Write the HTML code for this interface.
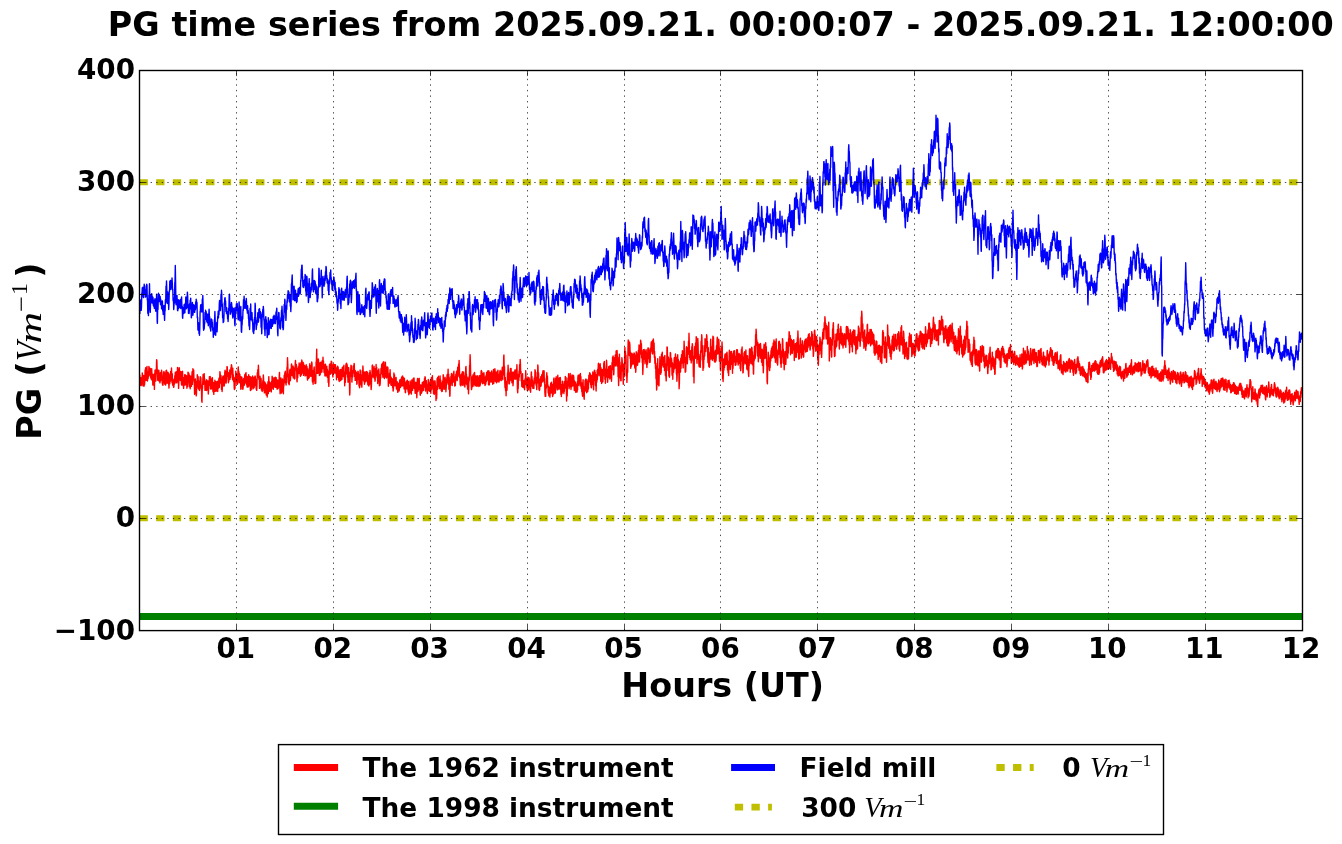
<!DOCTYPE html>
<html lang="en"><head><meta charset="utf-8"><title>PG time series</title>
<style>html,body{margin:0;padding:0;background:#fff}svg{display:block;will-change:transform}</style></head>
<body>
<svg width="1342" height="844" viewBox="0 0 1342 844">
<rect width="1342" height="844" fill="#fff"/>
<defs><clipPath id="ax"><rect x="139.5" y="70.5" width="1163.0" height="560.1"/></clipPath></defs>
<g clip-path="url(#ax)">
<line x1="139.5" x2="1302.5" y1="182.17" y2="182.17" stroke="#bfbf00" stroke-width="6.0" stroke-dasharray="8.33 8.33"/>
<line x1="139.5" x2="1302.5" y1="518.23" y2="518.23" stroke="#bfbf00" stroke-width="6.0" stroke-dasharray="8.33 8.33"/>
<polyline points="139.8,374.7 140.1,382.8 140.4,377.5 140.7,385.4 140.9,379.1 141.2,385.6 141.5,383.4 141.8,377.1 142.0,383.5 142.3,373.0 142.6,378.1 142.9,385.8 143.1,383.7 143.4,376.9 143.7,375.5 144.0,386.2 144.2,378.2 144.5,384.9 144.8,382.0 145.1,370.0 145.3,377.7 145.6,367.8 145.9,369.8 146.2,380.4 146.4,375.9 146.7,368.9 147.0,366.5 147.3,376.0 147.5,381.0 147.8,371.6 148.1,378.7 148.4,372.0 148.6,376.6 148.9,366.4 149.2,368.0 149.5,374.8 149.7,367.9 150.0,375.2 150.3,368.5 150.6,377.8 150.8,369.8 151.1,377.7 151.4,379.4 151.7,368.8 151.9,372.9 152.2,380.5 152.5,374.3 152.8,385.0 153.0,380.9 153.3,375.2 153.6,385.1 153.9,374.5 154.1,373.9 154.4,389.4 154.7,378.9 155.0,370.1 155.2,371.1 155.5,380.9 155.8,381.1 156.1,369.1 156.3,373.5 156.6,359.7 156.9,361.0 157.2,371.9 157.4,372.0 157.7,380.2 158.0,370.2 158.3,379.8 158.5,380.5 158.8,370.1 159.1,373.6 159.4,381.5 159.6,373.5 159.9,382.9 160.2,381.5 160.5,372.4 160.7,377.6 161.0,373.1 161.3,380.0 161.6,370.2 161.8,376.0 162.1,381.4 162.4,384.2 162.7,377.0 162.9,385.4 163.2,376.0 163.5,372.0 163.8,382.5 164.0,371.4 164.3,380.8 164.6,384.1 164.9,373.0 165.1,375.8 165.4,382.2 165.7,385.1 166.0,370.8 166.2,380.4 166.5,370.2 166.8,373.9 167.1,383.3 167.3,374.2 167.6,383.0 167.9,372.3 168.2,380.1 168.4,372.9 168.7,384.0 169.0,388.1 169.3,375.4 169.5,377.0 169.8,383.7 170.1,373.8 170.4,381.3 170.6,371.5 170.9,380.0 171.2,378.9 171.5,367.9 171.7,374.0 172.0,382.8 172.3,373.7 172.6,385.1 172.8,378.7 173.1,385.6 173.4,379.7 173.7,387.4 173.9,386.5 174.2,379.7 174.5,384.1 174.8,375.6 175.0,381.9 175.3,372.2 175.6,381.9 175.9,374.5 176.1,383.0 176.4,371.6 176.7,382.3 177.0,374.5 177.2,379.1 177.5,367.4 177.8,369.5 178.1,383.3 178.3,378.9 178.6,388.4 178.9,380.3 179.2,367.6 179.4,368.8 179.7,377.6 180.0,380.1 180.3,371.4 180.5,380.5 180.8,372.4 181.1,371.7 181.4,383.3 181.6,385.0 181.9,376.7 182.2,379.6 182.5,371.1 182.7,375.1 183.0,385.7 183.3,377.4 183.6,388.4 183.8,384.6 184.1,377.8 184.4,383.3 184.7,374.6 184.9,385.1 185.2,375.4 185.5,375.0 185.8,384.9 186.0,376.4 186.3,384.3 186.6,375.6 186.9,388.2 187.1,378.3 187.4,386.7 187.7,382.8 188.0,372.1 188.2,373.5 188.5,381.6 188.8,373.3 189.1,382.4 189.3,386.8 189.6,375.1 189.9,380.7 190.2,388.7 190.4,387.0 190.7,376.2 191.0,378.6 191.3,385.6 191.5,386.3 191.8,377.8 192.1,371.7 192.4,384.4 192.6,377.6 192.9,368.8 193.2,376.9 193.5,370.5 193.7,370.2 194.0,381.0 194.3,382.5 194.6,394.3 194.8,392.6 195.1,380.0 195.4,379.0 195.7,388.7 195.9,384.9 196.2,395.9 196.5,393.8 196.8,381.2 197.0,388.8 197.3,374.8 197.6,377.7 197.9,384.2 198.1,376.4 198.4,386.5 198.7,389.1 199.0,381.2 199.2,381.6 199.5,390.5 199.8,386.1 200.1,377.7 200.3,376.7 200.6,386.7 200.9,377.7 201.2,388.7 201.4,385.3 201.7,400.8 202.0,402.2 202.3,386.0 202.5,388.6 202.8,380.6 203.1,374.4 203.4,384.4 203.6,382.8 203.9,374.7 204.2,373.6 204.5,381.9 204.7,378.7 205.0,390.4 205.3,390.1 205.6,382.8 205.8,389.3 206.1,380.9 206.4,390.6 206.7,379.8 206.9,380.8 207.2,388.8 207.5,380.9 207.8,390.3 208.0,384.1 208.3,394.0 208.6,389.8 208.9,380.5 209.1,385.6 209.4,376.8 209.7,384.6 210.0,377.8 210.2,376.5 210.5,388.6 210.8,389.1 211.1,379.0 211.3,383.1 211.6,388.8 211.9,386.9 212.2,377.6 212.4,377.8 212.7,387.0 213.0,391.8 213.3,382.4 213.5,382.6 213.8,394.4 214.1,382.6 214.4,391.5 214.6,386.6 214.9,380.1 215.2,390.6 215.5,381.9 215.7,391.3 216.0,381.6 216.3,391.1 216.6,383.3 216.8,381.9 217.1,390.6 217.4,381.3 217.7,391.5 217.9,387.7 218.2,381.4 218.5,388.1 218.8,379.4 219.0,378.3 219.3,387.5 219.6,382.5 219.9,371.6 220.1,372.6 220.4,381.5 220.7,383.1 221.0,375.5 221.2,378.8 221.5,389.5 221.8,380.3 222.1,391.5 222.3,388.9 222.6,378.3 222.9,376.3 223.2,385.9 223.4,375.9 223.7,386.0 224.0,377.1 224.3,385.9 224.5,383.2 224.8,372.3 225.1,370.2 225.4,377.5 225.6,371.4 225.9,382.9 226.2,383.1 226.5,374.1 226.7,375.4 227.0,366.4 227.3,367.1 227.6,376.2 227.8,372.2 228.1,379.9 228.4,382.8 228.7,375.1 228.9,381.2 229.2,372.4 229.5,379.2 229.8,369.9 230.0,379.4 230.3,371.2 230.6,377.4 230.9,367.8 231.1,371.0 231.4,364.7 231.7,365.8 232.0,374.2 232.2,368.4 232.5,379.8 232.8,368.2 233.1,379.8 233.3,374.6 233.6,381.5 233.9,377.3 234.2,387.7 234.4,389.5 234.7,380.6 235.0,388.6 235.3,377.7 235.5,381.5 235.8,371.1 236.1,374.1 236.4,381.5 236.6,377.2 236.9,384.0 237.2,374.3 237.5,384.3 237.7,377.5 238.0,370.4 238.3,366.9 238.6,377.2 238.8,371.2 239.1,382.7 239.4,373.3 239.7,381.9 239.9,374.5 240.2,382.8 240.5,379.8 240.8,389.2 241.0,376.7 241.3,385.7 241.6,385.2 241.9,377.3 242.1,378.9 242.4,389.1 242.7,380.6 243.0,389.1 243.2,386.3 243.5,379.6 243.8,378.4 244.1,385.5 244.3,384.9 244.6,376.8 244.9,374.4 245.2,383.0 245.4,382.3 245.7,373.5 246.0,372.6 246.3,381.9 246.5,384.8 246.8,376.2 247.1,386.9 247.4,379.0 247.6,380.5 247.9,387.3 248.2,376.4 248.5,386.5 248.7,374.8 249.0,384.1 249.3,376.4 249.6,385.5 249.8,376.4 250.1,384.1 250.4,390.5 250.7,377.0 250.9,380.8 251.2,389.8 251.5,377.4 251.8,386.8 252.0,377.4 252.3,386.9 252.6,376.0 252.9,388.9 253.1,377.1 253.4,388.2 253.7,380.4 254.0,387.8 254.2,387.4 254.5,376.9 254.8,384.0 255.1,376.0 255.3,376.6 255.6,385.7 255.9,380.4 256.2,389.2 256.4,379.4 256.7,390.4 257.0,385.5 257.3,372.7 257.5,377.6 257.8,369.6 258.1,375.3 258.4,365.3 258.6,370.2 258.9,379.6 259.2,378.1 259.5,388.4 259.7,387.5 260.0,376.3 260.3,379.9 260.6,386.7 260.8,387.7 261.1,378.5 261.4,390.0 261.7,384.3 261.9,384.5 262.2,391.5 262.5,387.8 262.8,380.7 263.0,386.7 263.3,374.9 263.6,378.7 263.9,390.8 264.1,386.0 264.4,392.9 264.7,381.9 265.0,392.5 265.2,392.1 265.5,383.1 265.8,385.8 266.1,394.4 266.3,395.1 266.6,385.0 266.9,386.5 267.2,397.0 267.4,393.9 267.7,385.1 268.0,381.8 268.3,393.6 268.5,389.6 268.8,376.6 269.1,388.5 269.4,381.6 269.6,391.3 269.9,382.6 270.2,390.2 270.5,383.7 270.7,382.9 271.0,390.5 271.3,391.9 271.6,381.1 271.8,387.6 272.1,376.2 272.4,377.9 272.7,388.3 272.9,379.3 273.2,389.3 273.5,387.4 273.8,379.5 274.0,377.6 274.3,386.7 274.6,386.2 274.9,378.0 275.1,386.7 275.4,377.1 275.7,387.4 276.0,377.7 276.2,377.8 276.5,386.5 276.8,379.6 277.1,389.3 277.3,379.9 277.6,388.6 277.9,380.3 278.2,388.5 278.4,381.2 278.7,386.7 279.0,382.7 279.3,374.5 279.5,372.4 279.8,387.1 280.1,393.8 280.4,382.5 280.6,390.8 280.9,377.9 281.2,380.2 281.5,393.0 281.7,380.6 282.0,391.9 282.3,388.9 282.6,378.9 282.8,389.8 283.1,380.8 283.4,393.8 283.7,380.6 283.9,386.1 284.2,375.2 284.5,381.3 284.8,372.7 285.0,382.5 285.3,371.1 285.6,377.2 285.9,383.9 286.1,385.0 286.4,376.2 286.7,382.2 287.0,367.5 287.2,370.3 287.5,357.6 287.8,364.6 288.1,377.1 288.3,374.5 288.6,383.7 288.9,374.4 289.2,384.7 289.4,379.5 289.7,370.7 290.0,369.3 290.3,380.7 290.5,379.9 290.8,371.0 291.1,375.8 291.4,364.6 291.6,363.9 291.9,373.3 292.2,375.3 292.5,367.2 292.7,375.9 293.0,366.0 293.3,377.9 293.6,367.3 293.8,377.2 294.1,368.7 294.4,379.0 294.7,369.3 294.9,378.6 295.2,364.1 295.5,360.5 295.8,369.4 296.0,370.0 296.3,364.4 296.6,365.8 296.9,380.4 297.1,381.8 297.4,370.5 297.7,377.8 298.0,368.2 298.2,373.7 298.5,366.7 298.8,373.6 299.1,363.0 299.3,370.8 299.6,363.9 299.9,366.1 300.2,375.3 300.4,376.2 300.7,369.0 301.0,362.4 301.3,375.0 301.5,370.7 301.8,360.0 302.1,361.7 302.4,372.3 302.6,365.6 302.9,373.4 303.2,362.4 303.5,375.4 303.7,363.9 304.0,372.8 304.3,373.9 304.6,365.6 304.8,368.4 305.1,376.0 305.4,374.3 305.7,366.3 305.9,375.3 306.2,364.8 306.5,375.5 306.8,366.2 307.0,367.1 307.3,377.8 307.6,380.1 307.9,368.9 308.1,373.4 308.4,378.5 308.7,376.8 309.0,370.8 309.2,377.8 309.5,367.6 309.8,363.7 310.1,373.7 310.3,365.4 310.6,376.1 310.9,376.3 311.2,365.7 311.4,370.1 311.7,362.0 312.0,363.3 312.3,379.6 312.5,382.0 312.8,370.8 313.1,384.2 313.4,375.3 313.6,381.0 313.9,368.8 314.2,366.9 314.5,375.6 314.7,375.0 315.0,383.6 315.3,383.0 315.6,374.9 315.8,383.2 316.1,361.9 316.4,361.9 316.7,349.1 316.9,359.7 317.2,373.4 317.5,363.6 317.8,373.2 318.0,365.8 318.3,358.9 318.6,361.4 318.9,373.3 319.1,362.8 319.4,375.5 319.7,365.1 320.0,375.1 320.2,374.5 320.5,362.5 320.8,372.7 321.1,362.3 321.3,370.8 321.6,363.0 321.9,372.0 322.2,360.6 322.4,360.9 322.7,368.5 323.0,357.2 323.3,365.5 323.5,361.0 323.8,367.9 324.1,372.6 324.4,365.0 324.6,365.3 324.9,375.7 325.2,376.1 325.5,364.1 325.7,375.5 326.0,366.8 326.3,366.8 326.6,373.8 326.8,366.2 327.1,376.9 327.4,369.3 327.7,377.5 327.9,370.9 328.2,382.6 328.5,377.5 328.8,386.4 329.0,381.4 329.3,367.8 329.6,364.1 329.9,372.9 330.1,364.3 330.4,374.3 330.7,363.6 331.0,369.2 331.2,361.2 331.5,373.0 331.8,362.0 332.1,371.5 332.3,364.6 332.6,374.7 332.9,377.0 333.2,366.9 333.4,373.7 333.7,364.1 334.0,365.7 334.3,372.8 334.5,373.0 334.8,364.7 335.1,372.6 335.4,364.6 335.6,366.8 335.9,373.9 336.2,367.7 336.5,379.7 336.7,367.9 337.0,377.0 337.3,374.4 337.6,366.2 337.8,377.4 338.1,367.0 338.4,371.3 338.7,380.1 338.9,372.2 339.2,381.5 339.5,379.2 339.8,370.5 340.0,369.6 340.3,380.3 340.6,380.7 340.9,369.5 341.1,379.9 341.4,371.1 341.7,371.6 342.0,379.2 342.2,367.7 342.5,376.4 342.8,374.5 343.1,366.6 343.3,367.4 343.6,376.2 343.9,365.2 344.2,378.1 344.4,372.0 344.7,385.7 345.0,373.8 345.3,382.5 345.5,377.1 345.8,366.1 346.1,363.7 346.4,372.3 346.6,363.1 346.9,374.0 347.2,364.6 347.5,376.9 347.7,372.7 348.0,382.2 348.3,381.4 348.6,367.5 348.8,369.0 349.1,380.8 349.4,382.1 349.7,395.0 349.9,392.4 350.2,372.3 350.5,376.7 350.8,368.6 351.0,365.3 351.3,374.5 351.6,366.0 351.9,382.1 352.1,377.8 352.4,370.7 352.7,376.9 353.0,370.9 353.2,373.2 353.5,365.6 353.8,372.9 354.1,363.5 354.3,364.5 354.6,376.4 354.9,370.1 355.2,380.4 355.4,370.6 355.7,380.1 356.0,380.2 356.3,372.2 356.5,373.9 356.8,384.3 357.1,383.3 357.4,374.4 357.6,379.6 357.9,371.3 358.2,371.5 358.5,378.4 358.7,374.1 359.0,386.0 359.3,380.7 359.6,387.8 359.8,382.7 360.1,369.9 360.4,371.5 360.7,383.8 360.9,374.8 361.2,385.0 361.5,378.8 361.8,387.1 362.0,384.0 362.3,370.6 362.6,377.9 362.9,366.0 363.1,369.3 363.4,380.2 363.7,371.7 364.0,381.8 364.2,371.9 364.5,384.2 364.8,381.5 365.1,372.2 365.3,381.9 365.6,373.2 365.9,379.7 366.2,371.7 366.4,371.6 366.7,381.0 367.0,371.7 367.3,382.0 367.5,372.4 367.8,384.5 368.1,375.5 368.4,385.5 368.6,376.3 368.9,386.0 369.2,373.1 369.5,384.5 369.7,382.0 370.0,370.5 370.3,372.5 370.6,381.3 370.8,376.5 371.1,389.6 371.4,386.6 371.7,375.0 371.9,378.1 372.2,365.6 372.5,365.0 372.8,374.1 373.0,368.0 373.3,377.0 373.6,368.6 373.9,375.7 374.1,366.5 374.4,378.8 374.7,373.0 375.0,381.2 375.2,380.4 375.5,368.4 375.8,376.1 376.1,364.4 376.3,374.5 376.6,367.1 376.9,370.8 377.2,377.6 377.4,372.1 377.7,383.6 378.0,380.4 378.3,370.3 378.5,377.4 378.8,369.0 379.1,374.4 379.4,385.7 379.6,379.7 379.9,385.4 380.2,383.4 380.5,374.3 380.7,378.3 381.0,368.1 381.3,374.0 381.6,366.0 381.8,364.1 382.1,371.6 382.4,363.5 382.7,374.8 382.9,377.2 383.2,362.3 383.5,372.3 383.8,361.8 384.0,367.6 384.3,378.6 384.6,375.4 384.9,367.3 385.1,373.9 385.4,362.3 385.7,377.0 386.0,366.2 386.2,370.7 386.5,378.0 386.8,377.5 387.1,367.4 387.3,374.7 387.6,367.0 387.9,367.8 388.2,380.2 388.4,386.2 388.7,377.1 389.0,376.2 389.3,383.2 389.5,373.3 389.8,382.0 390.1,369.6 390.4,379.9 390.6,376.3 390.9,384.9 391.2,377.4 391.5,385.4 391.7,379.0 392.0,384.7 392.3,378.8 392.6,387.5 392.8,381.1 393.1,391.0 393.4,389.7 393.7,380.8 393.9,373.0 394.2,384.0 394.5,374.6 394.8,385.1 395.0,385.9 395.3,378.5 395.6,385.5 395.9,378.4 396.1,377.5 396.4,389.0 396.7,382.4 397.0,388.2 397.2,381.6 397.5,390.2 397.8,392.4 398.1,383.6 398.3,391.2 398.6,384.1 398.9,383.0 399.2,390.9 399.4,387.5 399.7,379.9 400.0,386.7 400.3,380.0 400.5,387.5 400.8,379.1 401.1,386.1 401.4,379.2 401.6,377.1 401.9,385.7 402.2,376.2 402.5,385.9 402.7,376.0 403.0,384.2 403.3,377.5 403.6,386.1 403.8,380.0 404.1,388.9 404.4,378.1 404.7,389.3 404.9,382.5 405.2,391.9 405.5,392.7 405.8,383.8 406.0,388.3 406.3,381.3 406.6,382.1 406.9,388.9 407.1,387.8 407.4,380.1 407.7,381.4 408.0,390.1 408.2,391.8 408.5,381.8 408.8,394.7 409.1,385.5 409.3,385.7 409.6,393.4 409.9,392.3 410.2,380.9 410.4,392.2 410.7,385.4 411.0,382.8 411.3,394.1 411.5,391.4 411.8,379.9 412.1,380.5 412.4,387.8 412.6,390.2 412.9,380.3 413.2,378.5 413.5,388.1 413.7,387.5 414.0,377.9 414.3,382.6 414.6,388.4 414.8,386.0 415.1,393.2 415.4,391.7 415.7,382.2 415.9,382.5 416.2,393.5 416.5,387.0 416.8,397.7 417.0,392.4 417.3,380.3 417.6,378.4 417.9,391.6 418.1,391.0 418.4,380.7 418.7,389.5 419.0,378.9 419.2,378.3 419.5,389.5 419.8,385.0 420.1,394.1 420.3,395.2 420.6,385.7 420.9,384.8 421.2,392.1 421.4,393.2 421.7,385.2 422.0,392.0 422.3,382.4 422.5,389.5 422.8,383.1 423.1,390.5 423.4,381.6 423.6,390.3 423.9,383.4 424.2,387.2 424.5,378.6 424.7,384.3 425.0,376.8 425.3,377.5 425.6,391.1 425.8,387.6 426.1,382.0 426.4,380.7 426.7,388.2 426.9,384.6 427.2,393.2 427.5,393.5 427.8,384.2 428.0,390.4 428.3,379.5 428.6,381.2 428.9,390.6 429.1,383.3 429.4,389.8 429.7,391.3 430.0,382.4 430.2,390.7 430.5,380.2 430.8,393.2 431.1,382.5 431.3,377.7 431.6,389.7 431.9,388.0 432.2,379.2 432.4,375.6 432.7,384.6 433.0,380.1 433.3,389.8 433.5,393.7 433.8,384.9 434.1,381.6 434.4,394.3 434.6,390.6 434.9,380.6 435.2,382.5 435.5,392.6 435.7,385.9 436.0,400.5 436.3,390.7 436.6,398.6 436.8,394.7 437.1,378.4 437.4,389.4 437.7,377.5 437.9,378.0 438.2,384.1 438.5,376.2 438.8,386.6 439.0,381.9 439.3,388.7 439.6,379.3 439.9,388.2 440.1,376.0 440.4,385.9 440.7,379.9 441.0,388.6 441.2,390.3 441.5,383.3 441.8,391.6 442.1,382.6 442.3,391.3 442.6,381.1 442.9,386.6 443.2,374.8 443.4,375.4 443.7,387.7 444.0,389.4 444.3,383.1 444.5,389.1 444.8,378.2 445.1,377.3 445.4,385.7 445.6,379.9 445.9,391.7 446.2,388.0 446.5,379.0 446.7,384.2 447.0,375.1 447.3,374.5 447.6,382.3 447.8,379.2 448.1,369.3 448.4,384.3 448.7,374.2 448.9,389.3 449.2,377.3 449.5,386.0 449.8,396.2 450.0,395.6 450.3,380.0 450.6,385.4 450.9,376.4 451.1,382.2 451.4,373.8 451.7,373.4 452.0,381.1 452.2,385.5 452.5,375.1 452.8,382.2 453.1,375.0 453.3,381.9 453.6,373.1 453.9,371.3 454.2,381.3 454.4,376.7 454.7,386.0 455.0,377.4 455.3,385.6 455.5,381.9 455.8,374.2 456.1,379.9 456.4,372.5 456.6,371.2 456.9,379.5 457.2,380.5 457.5,371.0 457.7,367.2 458.0,376.6 458.3,373.9 458.6,363.9 458.8,374.7 459.1,360.4 459.4,368.1 459.7,378.0 459.9,374.5 460.2,384.9 460.5,376.2 460.8,385.9 461.0,375.0 461.3,384.3 461.6,380.2 461.9,373.3 462.1,384.7 462.4,371.8 462.7,385.3 463.0,377.9 463.2,378.6 463.5,372.0 463.8,373.4 464.1,383.8 464.3,385.9 464.6,376.2 464.9,387.0 465.2,378.2 465.4,383.9 465.7,368.2 466.0,366.5 466.3,376.6 466.5,374.2 466.8,384.7 467.1,376.9 467.4,384.6 467.6,389.1 467.9,378.2 468.2,383.3 468.5,393.8 468.7,388.4 469.0,376.8 469.3,380.9 469.6,365.5 469.8,367.6 470.1,354.8 470.4,362.2 470.7,375.5 470.9,375.9 471.2,384.3 471.5,389.6 471.8,383.4 472.0,387.9 472.3,376.8 472.6,383.8 472.9,374.9 473.1,386.2 473.4,376.8 473.7,383.3 474.0,373.2 474.2,384.6 474.5,372.4 474.8,376.5 475.1,385.9 475.3,385.2 475.6,378.7 475.9,375.9 476.2,386.0 476.4,382.2 476.7,376.2 477.0,386.1 477.3,378.0 477.5,385.9 477.8,375.6 478.1,377.0 478.4,383.8 478.6,378.0 478.9,386.5 479.2,377.4 479.5,385.9 479.7,375.4 480.0,385.8 480.3,384.3 480.6,378.5 480.8,382.0 481.1,371.0 481.4,370.5 481.7,378.1 481.9,371.6 482.2,383.0 482.5,383.7 482.8,374.0 483.0,383.2 483.3,373.5 483.6,378.8 483.9,372.6 484.1,375.9 484.4,383.6 484.7,377.0 485.0,385.6 485.2,384.9 485.5,376.7 485.8,384.1 486.1,375.2 486.3,381.7 486.6,372.4 486.9,379.7 487.2,372.1 487.4,379.6 487.7,370.9 488.0,380.8 488.3,373.2 488.5,384.7 488.8,370.7 489.1,376.2 489.4,384.8 489.6,372.5 489.9,382.1 490.2,381.0 490.5,373.1 490.7,381.8 491.0,372.2 491.3,382.0 491.6,371.0 491.8,380.3 492.1,373.1 492.4,376.4 492.7,384.3 492.9,381.2 493.2,372.3 493.5,369.5 493.8,383.4 494.0,371.7 494.3,377.8 494.6,380.9 494.9,368.8 495.1,371.4 495.4,381.5 495.7,379.1 496.0,372.1 496.2,373.0 496.5,382.8 496.8,382.3 497.1,373.1 497.3,371.5 497.6,380.3 497.9,370.2 498.2,381.5 498.4,374.1 498.7,380.6 499.0,382.0 499.3,374.1 499.5,380.6 499.8,371.8 500.1,370.5 500.4,379.7 500.6,371.1 500.9,377.3 501.2,380.6 501.5,373.8 501.7,378.2 502.0,370.7 502.3,367.1 502.6,375.9 502.8,379.8 503.1,370.0 503.4,374.9 503.7,357.0 503.9,355.0 504.2,367.9 504.5,366.7 504.8,382.5 505.0,387.8 505.3,377.5 505.6,390.7 505.9,381.2 506.1,395.7 506.4,382.5 506.7,381.4 507.0,390.3 507.2,383.1 507.5,373.0 507.8,374.0 508.1,365.2 508.3,370.2 508.6,378.3 508.9,383.7 509.2,373.0 509.4,383.9 509.7,375.2 510.0,380.9 510.3,370.7 510.5,368.4 510.8,379.4 511.1,368.4 511.4,380.4 511.6,372.5 511.9,382.7 512.2,381.1 512.5,372.2 512.7,373.9 513.0,385.7 513.3,381.5 513.6,373.7 513.8,372.0 514.1,378.4 514.4,371.8 514.7,379.0 514.9,370.0 515.2,379.0 515.5,371.5 515.8,379.1 516.0,378.7 516.3,369.3 516.6,374.6 516.9,364.6 517.1,370.3 517.4,389.1 517.7,392.7 518.0,384.8 518.2,388.4 518.5,374.2 518.8,380.5 519.1,371.0 519.3,377.1 519.6,364.8 519.9,368.7 520.2,359.4 520.4,362.7 520.7,373.4 521.0,371.4 521.3,381.0 521.5,376.7 521.8,386.5 522.1,385.6 522.4,376.9 522.6,373.7 522.9,387.4 523.2,387.1 523.5,380.7 523.7,387.8 524.0,382.1 524.3,380.4 524.6,389.7 524.8,385.6 525.1,378.7 525.4,382.9 525.7,370.8 525.9,374.8 526.2,384.7 526.5,378.3 526.8,387.5 527.0,382.2 527.3,390.5 527.6,390.5 527.9,377.0 528.1,381.6 528.4,389.7 528.7,386.6 529.0,377.6 529.2,386.7 529.5,378.9 529.8,383.6 530.1,390.6 530.3,383.4 530.6,392.2 530.9,385.4 531.2,374.1 531.4,371.9 531.7,379.7 532.0,376.5 532.3,386.4 532.5,380.0 532.8,388.2 533.1,382.4 533.4,387.7 533.6,382.0 533.9,388.5 534.2,378.0 534.5,383.7 534.7,382.5 535.0,369.8 535.3,371.0 535.6,381.9 535.8,372.1 536.1,385.3 536.4,380.4 536.7,389.6 536.9,387.5 537.2,377.2 537.5,383.1 537.8,364.9 538.0,366.3 538.3,378.5 538.6,372.8 538.9,389.2 539.1,379.8 539.4,390.6 539.7,389.6 540.0,379.9 540.2,379.0 540.5,386.4 540.8,376.6 541.1,386.0 541.3,383.3 541.6,376.4 541.9,374.4 542.2,382.1 542.4,380.2 542.7,372.4 543.0,370.8 543.3,379.1 543.5,381.0 543.8,371.8 544.1,370.8 544.4,383.2 544.6,378.3 544.9,392.8 545.2,396.4 545.5,388.4 545.7,396.4 546.0,384.8 546.3,388.3 546.6,375.8 546.8,372.7 547.1,386.5 547.4,376.0 547.7,385.8 547.9,384.6 548.2,392.9 548.5,386.3 548.8,395.8 549.0,393.9 549.3,387.5 549.6,387.9 549.9,397.1 550.1,393.9 550.4,386.6 550.7,383.3 551.0,393.1 551.2,389.8 551.5,382.3 551.8,392.5 552.1,386.2 552.3,388.9 552.6,396.5 552.9,384.3 553.2,394.7 553.4,388.2 553.7,379.3 554.0,378.0 554.3,386.0 554.5,383.9 554.8,393.5 555.1,382.3 555.4,392.9 555.6,378.5 555.9,387.4 556.2,376.7 556.5,384.3 556.7,378.1 557.0,388.3 557.3,389.9 557.6,379.0 557.8,375.2 558.1,389.5 558.4,379.7 558.7,388.3 558.9,387.8 559.2,378.4 559.5,377.8 559.8,388.0 560.0,389.3 560.3,377.5 560.6,381.9 560.9,394.5 561.1,389.6 561.4,396.5 561.7,384.7 562.0,393.8 562.2,391.7 562.5,381.3 562.8,381.6 563.1,390.4 563.3,392.1 563.6,384.4 563.9,393.6 564.2,385.5 564.4,391.3 564.7,381.5 565.0,388.2 565.3,376.4 565.5,385.9 565.8,377.3 566.1,377.9 566.4,391.2 566.6,401.0 566.9,387.5 567.2,396.0 567.5,381.3 567.7,386.1 568.0,378.1 568.3,384.8 568.6,373.8 568.8,379.4 569.1,388.8 569.4,378.5 569.7,386.9 569.9,383.4 570.2,373.4 570.5,386.0 570.8,379.4 571.0,389.5 571.3,377.0 571.6,386.9 571.9,374.9 572.1,377.9 572.4,384.8 572.7,385.9 573.0,375.1 573.2,382.6 573.5,375.5 573.8,377.3 574.1,386.7 574.3,390.5 574.6,380.9 574.9,383.1 575.2,388.4 575.4,382.2 575.7,392.3 576.0,391.5 576.3,384.3 576.5,392.0 576.8,384.2 577.1,392.0 577.4,381.6 577.6,389.9 577.9,377.0 578.2,375.1 578.5,385.3 578.7,382.0 579.0,375.1 579.3,375.0 579.6,382.9 579.8,377.2 580.1,385.9 580.4,373.4 580.7,382.5 580.9,376.6 581.2,388.4 581.5,382.6 581.8,391.7 582.0,384.7 582.3,394.4 582.6,396.2 582.9,382.5 583.1,379.7 583.4,393.9 583.7,389.2 584.0,397.6 584.2,399.2 584.5,386.6 584.8,391.1 585.1,380.4 585.3,385.8 585.6,379.1 585.9,391.0 586.2,379.1 586.4,384.6 586.7,392.7 587.0,390.3 587.3,381.5 587.5,383.7 587.8,391.6 588.1,379.4 588.4,389.0 588.6,382.5 588.9,375.1 589.2,381.3 589.5,375.6 589.7,372.8 590.0,381.9 590.3,373.8 590.6,384.5 590.8,375.4 591.1,387.1 591.4,387.8 591.7,377.3 591.9,375.1 592.2,384.4 592.5,381.6 592.8,371.9 593.0,374.0 593.3,386.1 593.6,389.7 593.9,376.2 594.1,379.2 594.4,370.3 594.7,370.4 595.0,380.2 595.2,372.3 595.5,385.5 595.8,381.2 596.1,391.1 596.3,385.5 596.6,374.5 596.9,381.9 597.2,370.5 597.4,379.5 597.7,369.2 598.0,373.5 598.3,364.2 598.5,363.1 598.8,372.7 599.1,375.7 599.4,366.2 599.6,373.9 599.9,364.3 600.2,363.8 600.5,371.4 600.7,381.3 601.0,367.8 601.3,373.7 601.6,383.6 601.8,382.9 602.1,373.1 602.4,369.5 602.7,380.0 602.9,381.7 603.2,372.2 603.5,375.7 603.8,363.0 604.0,369.9 604.3,361.4 604.6,369.0 604.9,379.2 605.1,369.6 605.4,383.2 605.7,377.0 606.0,368.7 606.2,370.4 606.5,360.2 606.8,364.4 607.1,377.2 607.3,369.4 607.6,382.2 607.9,377.4 608.2,369.2 608.4,377.1 608.7,366.8 609.0,377.3 609.3,369.1 609.5,366.2 609.8,379.0 610.1,378.1 610.4,365.8 610.6,376.4 610.9,369.3 611.2,369.2 611.5,381.2 611.7,375.0 612.0,362.6 612.3,366.7 612.6,357.2 612.8,369.5 613.1,356.0 613.4,361.0 613.7,374.8 613.9,373.0 614.2,359.5 614.5,357.6 614.8,365.7 615.0,364.2 615.3,355.1 615.6,354.9 615.9,366.1 616.1,350.9 616.4,364.4 616.7,359.6 617.0,350.4 617.2,352.9 617.5,366.3 617.8,357.2 618.1,376.7 618.3,368.1 618.6,385.6 618.9,378.3 619.2,360.4 619.4,354.2 619.7,367.3 620.0,362.3 620.3,378.0 620.5,372.3 620.8,380.8 621.1,380.8 621.4,365.8 621.6,371.3 621.9,357.8 622.2,360.8 622.5,371.1 622.7,363.6 623.0,375.4 623.3,384.3 623.6,368.6 623.8,377.2 624.1,364.0 624.4,376.2 624.7,352.6 624.9,347.4 625.2,359.0 625.5,351.5 625.8,363.4 626.0,355.3 626.3,375.8 626.6,369.6 626.9,382.4 627.1,377.7 627.4,369.6 627.7,372.3 628.0,347.6 628.2,339.9 628.5,354.2 628.8,341.0 629.1,351.6 629.3,355.5 629.6,342.4 629.9,345.0 630.2,358.4 630.4,352.0 630.7,368.3 631.0,366.5 631.3,354.7 631.5,366.1 631.8,353.2 632.1,364.6 632.4,355.7 632.6,354.1 632.9,363.2 633.2,363.6 633.5,354.4 633.7,364.1 634.0,352.9 634.3,353.2 634.6,365.4 634.8,368.0 635.1,355.1 635.4,363.4 635.7,372.2 635.9,369.6 636.2,351.8 636.5,365.8 636.8,352.8 637.0,356.0 637.3,365.2 637.6,364.9 637.9,357.8 638.1,362.7 638.4,350.3 638.7,356.9 639.0,345.0 639.2,347.6 639.5,362.0 639.8,357.3 640.1,345.4 640.3,354.3 640.6,340.2 640.9,341.9 641.2,353.7 641.4,343.6 641.7,357.9 642.0,350.3 642.3,362.7 642.5,359.3 642.8,374.5 643.1,366.6 643.4,353.6 643.6,349.7 643.9,359.3 644.2,349.5 644.5,358.6 644.7,351.4 645.0,363.8 645.3,351.3 645.6,361.8 645.8,360.7 646.1,349.7 646.4,353.7 646.7,364.2 646.9,367.5 647.2,357.8 647.5,364.1 647.8,349.7 648.0,347.9 648.3,358.6 648.6,348.1 648.9,357.9 649.1,350.3 649.4,362.3 649.7,350.4 650.0,362.5 650.2,360.8 650.5,348.3 650.8,351.3 651.1,343.9 651.3,342.0 651.6,350.2 651.9,343.7 652.2,353.3 652.4,340.8 652.7,354.1 653.0,349.8 653.3,339.0 653.5,340.7 653.8,352.0 654.1,343.0 654.4,357.6 654.6,351.4 654.9,363.4 655.2,356.8 655.5,368.5 655.7,365.7 656.0,378.7 656.3,374.6 656.6,390.0 656.8,388.1 657.1,363.3 657.4,372.3 657.7,358.7 657.9,369.4 658.2,384.5 658.5,376.9 658.8,385.9 659.0,385.4 659.3,368.7 659.6,368.7 659.9,356.6 660.1,363.1 660.4,372.9 660.7,374.2 661.0,366.1 661.2,372.5 661.5,354.3 661.8,354.5 662.1,364.9 662.3,352.1 662.6,365.3 662.9,357.2 663.2,367.0 663.4,358.1 663.7,366.7 664.0,366.4 664.3,356.4 664.5,370.6 664.8,355.5 665.1,363.3 665.4,375.5 665.6,368.7 665.9,376.4 666.2,380.9 666.5,363.7 666.7,365.8 667.0,346.9 667.3,347.2 667.6,362.6 667.8,356.3 668.1,370.5 668.4,357.1 668.7,369.0 668.9,376.0 669.2,359.1 669.5,377.2 669.8,365.3 670.0,367.1 670.3,352.5 670.6,353.0 670.9,364.0 671.1,366.9 671.4,358.3 671.7,360.3 672.0,374.1 672.2,375.4 672.5,363.0 672.8,379.3 673.1,364.3 673.3,366.4 673.6,372.2 673.9,369.3 674.2,357.8 674.4,357.7 674.7,368.5 675.0,367.1 675.3,356.0 675.5,354.0 675.8,364.0 676.1,357.2 676.4,373.9 676.6,367.8 676.9,381.2 677.2,375.2 677.5,357.5 677.7,354.8 678.0,365.3 678.3,359.4 678.6,373.1 678.8,367.7 679.1,388.7 679.4,383.2 679.7,363.8 679.9,361.3 680.2,369.9 680.5,372.1 680.8,358.1 681.0,368.5 681.3,359.4 681.6,354.6 681.9,363.0 682.1,360.9 682.4,350.7 682.7,353.3 683.0,364.4 683.2,367.9 683.5,351.4 683.8,354.7 684.1,341.2 684.3,346.3 684.6,362.8 684.9,359.0 685.2,372.3 685.4,357.7 685.7,371.4 686.0,361.8 686.3,348.9 686.5,346.8 686.8,359.2 687.1,352.3 687.4,363.7 687.6,357.1 687.9,347.4 688.2,354.2 688.5,341.1 688.7,347.9 689.0,333.2 689.3,343.7 689.6,357.6 689.8,352.2 690.1,359.7 690.4,350.6 690.7,359.1 690.9,351.0 691.2,362.9 691.5,357.8 691.8,346.7 692.0,352.6 692.3,343.6 692.6,346.2 692.9,361.0 693.1,356.2 693.4,376.5 693.7,363.3 694.0,382.9 694.2,369.9 694.5,349.0 694.8,346.5 695.1,357.9 695.3,358.4 695.6,343.0 695.9,351.0 696.2,336.6 696.4,338.5 696.7,356.0 697.0,363.2 697.3,345.2 697.5,349.5 697.8,338.4 698.1,344.4 698.4,359.5 698.6,356.7 698.9,364.6 699.2,366.7 699.5,356.1 699.7,365.5 700.0,354.2 700.3,367.2 700.6,350.8 700.8,360.1 701.1,341.2 701.4,346.3 701.7,334.7 701.9,337.1 702.2,352.2 702.5,345.4 702.8,360.9 703.0,370.4 703.3,357.6 703.6,368.1 703.9,356.0 704.1,359.5 704.4,345.6 704.7,355.9 705.0,338.8 705.2,339.4 705.5,351.1 705.8,351.5 706.1,339.9 706.3,346.1 706.6,334.7 706.9,336.7 707.2,348.0 707.4,341.4 707.7,356.3 708.0,362.6 708.3,347.8 708.5,356.3 708.8,366.4 709.1,356.4 709.4,367.2 709.6,365.7 709.9,352.3 710.2,359.5 710.5,344.9 710.7,339.1 711.0,351.2 711.3,346.6 711.6,357.8 711.8,359.1 712.1,348.9 712.4,360.2 712.7,341.3 712.9,336.3 713.2,344.9 713.5,337.0 713.8,358.7 714.0,350.8 714.3,361.1 714.6,361.7 714.9,352.6 715.1,362.3 715.4,352.5 715.7,350.1 716.0,361.0 716.2,357.5 716.5,345.6 716.8,351.3 717.1,339.1 717.3,337.2 717.6,354.0 717.9,344.3 718.2,353.6 718.4,353.5 718.7,339.1 719.0,342.3 719.3,355.0 719.5,361.3 719.8,348.0 720.1,355.3 720.4,369.7 720.6,370.7 720.9,354.1 721.2,360.7 721.5,347.2 721.7,356.9 722.0,342.0 722.3,347.6 722.6,378.8 722.8,369.2 723.1,381.6 723.4,372.8 723.7,359.0 723.9,370.3 724.2,361.5 724.5,367.6 724.8,356.1 725.0,354.3 725.3,365.1 725.6,354.8 725.9,363.5 726.1,353.4 726.4,364.2 726.7,360.6 727.0,352.1 727.2,355.1 727.5,370.0 727.8,363.2 728.1,372.9 728.3,361.4 728.6,375.5 728.9,366.8 729.2,353.0 729.4,350.3 729.7,363.5 730.0,355.7 730.3,369.5 730.5,366.1 730.8,351.8 731.1,364.5 731.4,351.5 731.6,362.8 731.9,353.1 732.2,357.0 732.5,373.2 732.7,355.8 733.0,368.5 733.3,361.2 733.6,351.3 733.8,360.5 734.1,352.3 734.4,350.6 734.7,362.2 734.9,356.2 735.2,365.3 735.5,365.2 735.8,357.8 736.0,364.8 736.3,353.9 736.6,349.7 736.9,361.8 737.1,360.2 737.4,349.7 737.7,353.7 738.0,363.3 738.2,365.1 738.5,355.3 738.8,363.4 739.1,353.4 739.3,354.4 739.6,362.6 739.9,354.7 740.2,368.5 740.4,362.7 740.7,370.6 741.0,366.7 741.3,352.2 741.5,349.3 741.8,359.3 742.1,347.0 742.4,361.2 742.6,356.9 742.9,372.9 743.2,372.4 743.5,359.7 743.7,364.9 744.0,352.9 744.3,361.9 744.6,351.8 744.8,353.7 745.1,362.6 745.4,363.7 745.7,354.4 745.9,350.0 746.2,362.1 746.5,355.4 746.8,369.1 747.0,356.7 747.3,369.8 747.6,355.8 747.9,364.8 748.1,359.1 748.4,373.3 748.7,376.5 749.0,364.1 749.2,365.7 749.5,349.4 749.8,348.7 750.1,361.9 750.3,349.0 750.6,359.8 750.9,363.6 751.2,354.2 751.4,363.0 751.7,347.3 752.0,348.2 752.3,364.8 752.5,351.8 752.8,364.3 753.1,359.6 753.4,373.4 753.6,374.1 753.9,355.3 754.2,360.7 754.5,346.3 754.7,349.7 755.0,358.7 755.3,357.6 755.6,334.6 755.8,341.2 756.1,329.1 756.4,334.3 756.7,345.5 756.9,339.9 757.2,352.0 757.5,355.9 757.8,342.4 758.0,351.5 758.3,361.8 758.6,356.6 758.9,345.5 759.1,344.2 759.4,352.6 759.7,355.5 760.0,344.3 760.2,358.2 760.5,343.5 760.8,348.0 761.1,357.0 761.3,354.0 761.6,362.3 761.9,361.5 762.2,349.2 762.4,365.3 762.7,350.3 763.0,361.2 763.3,372.7 763.5,368.3 763.8,347.9 764.1,344.2 764.4,357.0 764.6,348.5 764.9,358.5 765.2,357.5 765.5,345.2 765.7,342.7 766.0,355.7 766.3,346.6 766.6,365.2 766.8,361.5 767.1,381.8 767.4,383.7 767.7,364.0 767.9,366.8 768.2,352.2 768.5,354.6 768.8,366.5 769.0,357.7 769.3,369.6 769.6,370.6 769.9,362.9 770.1,367.7 770.4,355.3 770.7,361.0 771.0,350.7 771.2,357.0 771.5,348.4 771.8,358.1 772.1,346.7 772.3,357.6 772.6,346.2 772.9,354.7 773.2,343.0 773.4,355.7 773.7,344.4 774.0,339.9 774.3,357.8 774.5,341.4 774.8,355.5 775.1,349.7 775.4,362.2 775.6,357.6 775.9,342.7 776.2,338.9 776.5,359.5 776.7,349.1 777.0,363.2 777.3,350.6 777.6,365.1 777.8,361.8 778.1,351.9 778.4,354.6 778.7,341.8 778.9,349.2 779.2,341.2 779.5,342.3 779.8,354.2 780.0,357.6 780.3,344.3 780.6,363.8 780.9,351.0 781.1,367.2 781.4,354.9 781.7,363.1 782.0,351.2 782.2,352.9 782.5,338.6 782.8,340.9 783.1,357.0 783.3,349.2 783.6,363.4 783.9,358.3 784.2,369.7 784.4,366.0 784.7,354.6 785.0,351.4 785.3,363.8 785.5,353.7 785.8,364.4 786.1,357.8 786.4,342.4 786.6,353.5 786.9,342.1 787.2,345.1 787.5,355.4 787.7,358.0 788.0,346.7 788.3,353.1 788.6,338.7 788.8,344.2 789.1,331.6 789.4,332.8 789.7,344.4 789.9,346.3 790.2,335.6 790.5,354.7 790.8,342.1 791.0,353.4 791.3,339.3 791.6,341.5 791.9,352.2 792.1,342.3 792.4,353.2 792.7,340.8 793.0,350.0 793.2,349.3 793.5,341.1 793.8,339.7 794.1,349.8 794.3,360.5 794.6,348.0 794.9,346.7 795.2,357.2 795.4,343.6 795.7,353.0 796.0,343.5 796.3,357.3 796.5,354.6 796.8,342.5 797.1,352.5 797.4,338.0 797.6,345.2 797.9,331.0 798.2,338.2 798.5,352.1 798.7,359.1 799.0,347.3 799.3,358.8 799.6,345.2 799.8,352.6 800.1,340.7 800.4,338.3 800.7,351.5 800.9,345.0 801.2,358.1 801.5,355.3 801.8,344.1 802.0,351.1 802.3,340.8 802.6,343.5 802.9,354.9 803.1,347.0 803.4,357.2 803.7,356.6 804.0,345.0 804.2,350.0 804.5,341.3 804.8,349.8 805.1,342.1 805.3,339.5 805.6,352.0 805.9,350.4 806.2,338.7 806.4,342.8 806.7,351.6 807.0,341.7 807.3,351.3 807.5,347.4 807.8,337.2 808.1,347.6 808.4,334.8 808.6,345.6 808.9,335.6 809.2,333.6 809.5,346.0 809.7,338.3 810.0,350.1 810.3,348.8 810.6,339.6 810.8,337.2 811.1,345.8 811.4,343.6 811.7,331.7 811.9,333.2 812.2,344.2 812.5,334.3 812.8,349.1 813.0,344.1 813.3,356.4 813.6,353.9 813.9,341.3 814.1,346.2 814.4,331.0 814.7,330.1 815.0,336.9 815.2,334.8 815.5,347.5 815.8,351.2 816.1,338.7 816.3,347.0 816.6,336.5 816.9,340.4 817.2,350.4 817.4,344.2 817.7,359.9 818.0,353.8 818.3,365.3 818.5,359.9 818.8,345.3 819.1,354.6 819.4,343.7 819.6,350.1 819.9,337.3 820.2,339.1 820.5,350.5 820.7,341.8 821.0,354.0 821.3,342.5 821.6,357.4 821.8,353.1 822.1,339.5 822.4,344.1 822.7,332.5 822.9,338.7 823.2,329.4 823.5,328.7 823.8,339.0 824.0,334.8 824.3,322.7 824.6,329.3 824.9,316.8 825.1,318.3 825.4,327.9 825.7,323.3 826.0,336.1 826.2,338.9 826.5,325.4 826.8,335.5 827.1,326.1 827.3,333.0 827.6,344.1 827.9,342.0 828.2,331.5 828.4,335.3 828.7,322.1 829.0,335.2 829.3,361.0 829.5,356.4 829.8,345.1 830.1,347.6 830.4,337.6 830.6,339.1 830.9,350.1 831.2,339.4 831.5,355.6 831.7,357.1 832.0,340.1 832.3,345.3 832.6,328.9 832.8,335.6 833.1,325.0 833.4,322.7 833.7,338.8 833.9,334.1 834.2,349.7 834.5,356.6 834.8,341.3 835.0,355.9 835.3,343.6 835.6,348.2 835.9,334.1 836.1,335.9 836.4,346.7 836.7,345.4 837.0,333.3 837.2,340.9 837.5,329.4 837.8,336.9 838.1,326.6 838.3,324.1 838.6,339.8 838.9,328.7 839.2,346.5 839.4,349.0 839.7,337.7 840.0,343.3 840.3,333.5 840.5,337.7 840.8,326.4 841.1,329.7 841.4,344.0 841.6,335.2 841.9,345.0 842.2,342.7 842.5,333.3 842.7,335.3 843.0,348.0 843.3,345.0 843.6,335.1 843.8,334.9 844.1,344.7 844.4,333.7 844.7,343.3 844.9,337.1 845.2,344.8 845.5,334.3 845.8,347.3 846.0,343.4 846.3,327.2 846.6,326.5 846.9,338.9 847.1,334.2 847.4,327.1 847.7,326.7 848.0,339.0 848.2,328.6 848.5,341.3 848.8,333.5 849.1,344.7 849.3,336.7 849.6,352.7 849.9,346.3 850.2,329.7 850.4,330.6 850.7,344.2 851.0,332.7 851.3,343.2 851.5,335.1 851.8,346.9 852.1,336.4 852.4,351.8 852.6,331.7 852.9,344.1 853.2,341.7 853.5,330.0 853.7,330.9 854.0,341.0 854.3,335.7 854.6,344.9 854.8,330.2 855.1,344.8 855.4,336.8 855.7,348.8 855.9,353.7 856.2,338.3 856.5,350.1 856.8,336.7 857.0,348.6 857.3,337.3 857.6,348.7 857.9,334.2 858.1,340.4 858.4,326.2 858.7,336.7 859.0,327.9 859.2,332.0 859.5,341.5 859.8,332.6 860.1,346.2 860.3,343.1 860.6,332.7 860.9,340.6 861.2,317.0 861.4,325.8 861.7,311.1 862.0,315.4 862.3,328.6 862.5,337.8 862.8,324.0 863.1,341.5 863.4,331.9 863.6,334.6 863.9,348.2 864.2,346.1 864.5,334.5 864.7,330.0 865.0,342.3 865.3,336.9 865.6,347.7 865.8,350.2 866.1,341.6 866.4,346.1 866.7,334.0 866.9,339.0 867.2,324.9 867.5,324.3 867.8,343.1 868.0,332.2 868.3,343.9 868.6,342.8 868.9,332.9 869.1,343.1 869.4,332.2 869.7,337.6 870.0,329.5 870.2,335.0 870.5,345.8 870.8,344.3 871.1,329.4 871.3,329.8 871.6,339.5 871.9,344.0 872.2,331.9 872.4,343.4 872.7,333.3 873.0,334.1 873.3,342.8 873.5,345.0 873.8,334.8 874.1,353.0 874.4,340.2 874.6,344.6 874.9,355.2 875.2,345.6 875.5,354.0 875.7,353.6 876.0,344.7 876.3,340.9 876.6,351.7 876.8,341.5 877.1,352.6 877.4,348.3 877.7,354.1 877.9,346.8 878.2,359.6 878.5,345.4 878.8,356.8 879.0,345.9 879.3,354.3 879.6,345.1 879.9,356.5 880.1,351.4 880.4,361.9 880.7,346.8 881.0,358.4 881.2,346.5 881.5,358.8 881.8,363.5 882.1,346.3 882.3,353.0 882.6,332.5 882.9,330.4 883.2,341.9 883.4,332.4 883.7,344.7 884.0,341.6 884.3,357.4 884.5,342.9 884.8,358.0 885.1,351.2 885.4,337.0 885.6,344.5 885.9,357.5 886.2,346.6 886.5,362.2 886.7,356.8 887.0,342.3 887.3,345.8 887.6,324.9 887.8,329.8 888.1,342.8 888.4,335.4 888.7,347.0 888.9,348.5 889.2,336.9 889.5,341.9 889.8,353.0 890.0,343.9 890.3,356.4 890.6,348.0 890.9,356.5 891.1,359.2 891.4,345.9 891.7,353.6 892.0,339.6 892.2,345.0 892.5,336.1 892.8,336.9 893.1,349.5 893.3,340.3 893.6,350.9 893.9,334.3 894.2,350.6 894.4,348.7 894.7,338.6 895.0,338.5 895.3,345.9 895.5,334.5 895.8,346.2 896.1,339.8 896.4,348.6 896.6,349.2 896.9,340.0 897.2,345.9 897.5,334.2 897.7,333.8 898.0,343.1 898.3,344.0 898.6,331.7 898.8,338.7 899.1,349.0 899.4,340.1 899.7,351.1 899.9,346.2 900.2,334.8 900.5,332.3 900.8,344.6 901.0,327.4 901.3,337.1 901.6,325.6 901.9,339.5 902.1,345.4 902.4,337.2 902.7,341.4 903.0,354.1 903.2,351.1 903.5,331.3 903.8,333.7 904.1,345.0 904.3,339.4 904.6,358.6 904.9,342.8 905.2,356.5 905.4,351.2 905.7,344.2 906.0,350.5 906.3,342.4 906.5,342.2 906.8,356.3 907.1,358.8 907.4,348.0 907.6,349.1 907.9,359.5 908.2,350.0 908.5,358.4 908.7,353.0 909.0,336.7 909.3,344.2 909.6,333.3 909.8,346.4 910.1,335.7 910.4,335.9 910.7,345.5 910.9,347.0 911.2,334.7 911.5,344.8 911.8,356.5 912.0,354.3 912.3,344.9 912.6,343.4 912.9,354.0 913.1,343.5 913.4,352.7 913.7,344.3 914.0,351.8 914.2,346.4 914.5,356.1 914.8,347.2 915.1,355.8 915.3,340.1 915.6,351.7 915.9,345.2 916.2,334.2 916.4,345.3 916.7,333.6 917.0,334.4 917.3,347.1 917.5,338.3 917.8,348.2 918.1,349.9 918.4,339.6 918.6,351.0 918.9,337.4 919.2,335.7 919.5,350.1 919.7,345.1 920.0,334.1 920.3,331.2 920.6,337.9 920.8,341.9 921.1,332.0 921.4,344.6 921.7,334.2 921.9,347.2 922.2,334.1 922.5,333.8 922.8,348.7 923.0,336.1 923.3,346.9 923.6,344.3 923.9,334.5 924.1,337.3 924.4,349.3 924.7,344.3 925.0,333.9 925.2,341.3 925.5,326.8 925.8,330.5 926.1,342.9 926.3,346.5 926.6,335.6 926.9,343.7 927.2,333.9 927.4,342.2 927.7,335.1 928.0,329.9 928.3,338.9 928.5,332.4 928.8,323.3 929.1,333.4 929.4,323.3 929.6,338.5 929.9,327.0 930.2,333.3 930.5,346.5 930.7,329.5 931.0,343.8 931.3,329.1 931.6,338.5 931.8,343.5 932.1,334.2 932.4,340.3 932.7,328.0 932.9,330.6 933.2,320.9 933.5,317.3 933.8,331.7 934.0,322.4 934.3,339.2 934.6,326.4 934.9,336.1 935.1,324.6 935.4,336.3 935.7,329.5 936.0,340.2 936.2,338.3 936.5,331.9 936.8,340.8 937.1,330.1 937.3,330.4 937.6,339.7 937.9,340.3 938.2,329.4 938.4,345.0 938.7,329.4 939.0,330.8 939.3,320.4 939.5,320.8 939.8,334.3 940.1,334.9 940.4,321.3 940.6,333.9 940.9,322.3 941.2,329.2 941.5,320.0 941.7,316.2 942.0,330.0 942.3,328.3 942.6,319.8 942.8,320.5 943.1,334.7 943.4,327.3 943.7,340.7 943.9,342.6 944.2,334.9 944.5,339.3 944.8,328.3 945.0,338.0 945.3,326.1 945.6,337.4 945.9,325.8 946.1,338.7 946.4,329.4 946.7,342.9 947.0,329.3 947.2,334.0 947.5,345.8 947.8,337.4 948.1,330.0 948.3,327.1 948.6,345.9 948.9,332.0 949.2,343.3 949.4,338.4 949.7,325.7 950.0,327.0 950.3,336.9 950.5,325.0 950.8,340.0 951.1,341.9 951.4,332.8 951.6,339.1 951.9,327.4 952.2,323.3 952.5,337.4 952.7,329.2 953.0,343.6 953.3,331.9 953.6,343.5 953.8,332.5 954.1,346.8 954.4,350.5 954.7,339.5 954.9,349.4 955.2,336.6 955.5,335.9 955.8,351.5 956.0,338.1 956.3,349.1 956.6,340.5 956.9,353.7 957.1,352.0 957.4,343.8 957.7,350.8 958.0,336.6 958.2,344.9 958.5,328.8 958.8,331.8 959.1,346.6 959.3,354.9 959.6,344.9 959.9,343.8 960.2,326.1 960.4,329.3 960.7,340.9 961.0,347.2 961.3,335.9 961.5,341.9 961.8,353.9 962.1,353.7 962.4,345.7 962.6,357.0 962.9,344.3 963.2,355.3 963.5,341.5 963.7,339.9 964.0,354.8 964.3,349.0 964.6,336.2 964.8,353.5 965.1,343.6 965.4,349.9 965.7,338.3 965.9,347.3 966.2,330.0 966.5,339.1 966.8,321.2 967.0,321.8 967.3,337.3 967.6,326.3 967.9,346.0 968.1,352.4 968.4,341.2 968.7,351.0 969.0,339.4 969.2,342.4 969.5,352.0 969.8,344.0 970.1,359.9 970.3,360.5 970.6,352.6 970.9,362.2 971.2,354.2 971.4,364.6 971.7,351.9 972.0,354.4 972.3,366.4 972.5,362.1 972.8,350.2 973.1,355.8 973.4,344.1 973.6,351.1 973.9,337.3 974.2,353.9 974.5,340.2 974.7,347.4 975.0,362.0 975.3,363.8 975.6,352.3 975.8,365.1 976.1,349.5 976.4,358.8 976.7,349.9 976.9,355.6 977.2,364.8 977.5,355.2 977.8,362.9 978.0,365.9 978.3,351.4 978.6,361.0 978.9,350.8 979.1,352.9 979.4,367.1 979.7,371.1 980.0,353.6 980.2,357.6 980.5,346.4 980.8,349.5 981.1,359.1 981.3,362.3 981.6,348.7 981.9,354.5 982.2,345.4 982.4,349.6 982.7,356.3 983.0,351.7 983.3,361.1 983.5,346.6 983.8,359.7 984.1,353.9 984.4,366.2 984.6,367.7 984.9,358.2 985.2,366.3 985.5,356.3 985.7,364.2 986.0,355.1 986.3,356.8 986.6,365.7 986.8,355.5 987.1,365.6 987.4,361.8 987.7,373.5 987.9,373.2 988.2,360.5 988.5,367.4 988.8,356.4 989.0,353.5 989.3,363.7 989.6,358.6 989.9,350.4 990.1,347.2 990.4,360.3 990.7,357.9 991.0,369.9 991.2,361.8 991.5,369.3 991.8,366.3 992.1,358.3 992.3,352.3 992.6,362.7 992.9,356.4 993.2,365.9 993.4,366.9 993.7,358.3 994.0,368.9 994.3,359.6 994.5,363.9 994.8,374.4 995.1,373.8 995.4,357.9 995.6,364.5 995.9,351.2 996.2,357.8 996.5,350.5 996.7,357.0 997.0,351.2 997.3,350.0 997.6,357.9 997.8,348.5 998.1,357.7 998.4,348.7 998.7,357.2 998.9,350.8 999.2,359.9 999.5,356.8 999.8,351.1 1000.0,354.2 1000.3,367.6 1000.6,357.7 1000.9,367.4 1001.1,361.3 1001.4,350.7 1001.7,348.3 1002.0,354.8 1002.2,354.8 1002.5,346.5 1002.8,346.6 1003.1,357.3 1003.3,357.5 1003.6,349.0 1003.9,351.3 1004.2,361.6 1004.4,353.5 1004.7,362.0 1005.0,356.1 1005.3,363.1 1005.5,361.6 1005.8,355.3 1006.1,361.7 1006.4,354.2 1006.6,354.2 1006.9,366.8 1007.2,364.1 1007.5,353.7 1007.7,360.4 1008.0,353.8 1008.3,358.1 1008.6,349.9 1008.8,357.2 1009.1,348.0 1009.4,358.5 1009.7,350.5 1009.9,347.1 1010.2,353.6 1010.5,344.5 1010.8,356.8 1011.0,353.7 1011.3,363.3 1011.6,352.0 1011.9,360.7 1012.1,361.4 1012.4,351.0 1012.7,353.8 1013.0,362.3 1013.2,362.6 1013.5,354.1 1013.8,364.5 1014.1,354.1 1014.3,359.5 1014.6,351.5 1014.9,354.3 1015.2,362.6 1015.4,356.7 1015.7,365.3 1016.0,363.5 1016.3,357.4 1016.5,363.2 1016.8,355.5 1017.1,357.2 1017.4,363.6 1017.6,364.7 1017.9,359.1 1018.2,357.9 1018.5,366.0 1018.7,358.6 1019.0,366.4 1019.3,367.3 1019.6,357.7 1019.8,364.2 1020.1,354.7 1020.4,366.1 1020.7,358.4 1020.9,366.2 1021.2,358.8 1021.5,361.5 1021.8,353.9 1022.0,355.4 1022.3,369.0 1022.6,367.2 1022.9,358.4 1023.1,360.8 1023.4,348.3 1023.7,353.2 1024.0,361.3 1024.2,364.5 1024.5,354.3 1024.8,358.3 1025.1,350.8 1025.3,352.2 1025.6,362.1 1025.9,363.8 1026.2,354.4 1026.4,362.4 1026.7,355.3 1027.0,360.1 1027.3,346.4 1027.5,357.0 1027.8,349.4 1028.1,360.1 1028.4,351.3 1028.6,353.0 1028.9,359.9 1029.2,355.2 1029.5,364.2 1029.7,365.3 1030.0,356.2 1030.3,358.5 1030.6,348.4 1030.8,352.5 1031.1,359.8 1031.4,364.8 1031.7,353.9 1031.9,361.2 1032.2,355.4 1032.5,350.0 1032.8,359.9 1033.0,349.3 1033.3,359.1 1033.6,354.9 1033.9,363.6 1034.1,358.4 1034.4,349.3 1034.7,351.2 1035.0,359.2 1035.2,356.5 1035.5,362.3 1035.8,352.8 1036.1,361.6 1036.3,352.6 1036.6,361.6 1036.9,366.6 1037.2,359.6 1037.4,366.2 1037.7,356.6 1038.0,360.6 1038.3,350.5 1038.5,358.0 1038.8,350.8 1039.1,353.1 1039.4,362.8 1039.6,353.2 1039.9,363.1 1040.2,349.8 1040.5,358.8 1040.7,359.3 1041.0,348.4 1041.3,355.0 1041.6,361.5 1041.8,356.9 1042.1,364.5 1042.4,365.0 1042.7,358.0 1042.9,361.4 1043.2,355.4 1043.5,352.1 1043.8,362.4 1044.0,365.7 1044.3,357.2 1044.6,364.7 1044.9,356.1 1045.1,358.9 1045.4,367.0 1045.7,359.1 1046.0,364.5 1046.2,364.9 1046.5,357.5 1046.8,361.0 1047.1,351.9 1047.3,350.4 1047.6,358.5 1047.9,353.6 1048.2,359.9 1048.4,354.7 1048.7,360.9 1049.0,365.1 1049.3,355.2 1049.5,361.2 1049.8,351.6 1050.1,356.0 1050.4,348.7 1050.6,347.6 1050.9,356.0 1051.2,349.3 1051.5,357.7 1051.7,352.0 1052.0,360.7 1052.3,350.4 1052.6,359.6 1052.8,356.2 1053.1,364.8 1053.4,357.0 1053.7,365.4 1053.9,363.5 1054.2,356.1 1054.5,362.7 1054.8,354.3 1055.0,353.3 1055.3,359.1 1055.6,352.7 1055.9,360.8 1056.1,356.4 1056.4,363.6 1056.7,360.9 1057.0,354.7 1057.2,352.0 1057.5,363.3 1057.8,363.5 1058.1,368.6 1058.3,368.5 1058.6,361.8 1058.9,360.6 1059.2,367.7 1059.4,360.1 1059.7,370.0 1060.0,365.3 1060.3,355.6 1060.5,366.1 1060.8,354.8 1061.1,363.3 1061.4,371.9 1061.6,372.8 1061.9,364.9 1062.2,373.0 1062.5,367.0 1062.7,365.4 1063.0,374.6 1063.3,370.6 1063.6,361.5 1063.8,362.4 1064.1,370.3 1064.4,370.2 1064.7,363.2 1064.9,365.3 1065.2,371.9 1065.5,363.7 1065.8,371.5 1066.0,371.9 1066.3,364.2 1066.6,361.5 1066.9,370.6 1067.1,361.9 1067.4,370.0 1067.7,371.0 1068.0,363.0 1068.2,368.9 1068.5,360.0 1068.8,365.5 1069.1,359.0 1069.3,358.6 1069.6,368.3 1069.9,361.6 1070.2,372.3 1070.4,369.8 1070.7,362.5 1071.0,359.9 1071.3,368.2 1071.5,360.8 1071.8,368.8 1072.1,361.2 1072.4,368.5 1072.6,361.0 1072.9,372.2 1073.2,365.2 1073.5,375.3 1073.7,370.7 1074.0,362.7 1074.3,369.0 1074.6,359.4 1074.8,361.6 1075.1,368.1 1075.4,373.2 1075.7,364.7 1075.9,373.7 1076.2,365.6 1076.5,372.1 1076.8,363.8 1077.0,367.4 1077.3,358.3 1077.6,365.1 1077.9,356.8 1078.1,358.0 1078.4,367.6 1078.7,361.2 1079.0,369.9 1079.2,370.4 1079.5,363.6 1079.8,365.5 1080.1,373.7 1080.3,369.0 1080.6,375.2 1080.9,374.0 1081.2,367.0 1081.4,367.1 1081.7,370.9 1082.0,367.7 1082.3,374.6 1082.5,375.8 1082.8,366.5 1083.1,368.6 1083.4,373.5 1083.6,368.6 1083.9,376.4 1084.2,369.6 1084.5,377.1 1084.7,377.2 1085.0,372.2 1085.3,372.2 1085.6,378.9 1085.8,373.8 1086.1,381.3 1086.4,381.5 1086.7,374.5 1086.9,379.3 1087.2,373.4 1087.5,374.9 1087.8,382.7 1088.0,382.4 1088.3,368.9 1088.6,369.4 1088.9,362.4 1089.1,368.3 1089.4,362.1 1089.7,364.2 1090.0,373.3 1090.2,375.3 1090.5,368.7 1090.8,379.4 1091.1,372.5 1091.3,377.2 1091.6,365.5 1091.9,365.7 1092.2,371.6 1092.4,371.1 1092.7,366.1 1093.0,363.4 1093.3,370.5 1093.5,370.2 1093.8,363.2 1094.1,365.6 1094.4,371.1 1094.6,370.7 1094.9,361.1 1095.2,370.3 1095.5,360.8 1095.7,366.8 1096.0,361.5 1096.3,369.2 1096.6,363.8 1096.8,364.2 1097.1,372.6 1097.4,365.7 1097.7,374.1 1097.9,364.3 1098.2,373.6 1098.5,365.2 1098.8,374.4 1099.0,373.9 1099.3,368.7 1099.6,372.5 1099.9,362.3 1100.1,367.5 1100.4,360.7 1100.7,367.1 1101.0,361.2 1101.2,365.4 1101.5,359.2 1101.8,366.0 1102.1,358.0 1102.3,365.1 1102.6,356.8 1102.9,360.7 1103.2,370.5 1103.4,372.7 1103.7,365.4 1104.0,372.8 1104.3,366.4 1104.5,363.1 1104.8,370.8 1105.1,369.1 1105.4,361.9 1105.6,360.9 1105.9,370.1 1106.2,366.9 1106.5,359.4 1106.7,369.6 1107.0,361.6 1107.3,362.3 1107.6,368.6 1107.8,360.8 1108.1,367.2 1108.4,369.4 1108.7,359.7 1108.9,358.5 1109.2,368.1 1109.5,358.0 1109.8,363.9 1110.0,360.7 1110.3,368.2 1110.6,369.2 1110.9,360.9 1111.1,362.8 1111.4,353.5 1111.7,362.1 1112.0,356.6 1112.2,358.7 1112.5,363.7 1112.8,360.1 1113.1,367.5 1113.3,361.6 1113.6,371.4 1113.9,369.6 1114.2,362.9 1114.4,361.1 1114.7,370.0 1115.0,368.2 1115.3,361.9 1115.5,368.2 1115.8,363.0 1116.1,361.8 1116.4,369.0 1116.6,370.3 1116.9,364.4 1117.2,374.1 1117.5,365.7 1117.7,367.0 1118.0,375.7 1118.3,369.1 1118.6,375.9 1118.8,374.6 1119.1,367.8 1119.4,374.5 1119.7,366.3 1119.9,375.3 1120.2,367.5 1120.5,367.1 1120.8,377.1 1121.0,371.9 1121.3,378.2 1121.6,378.8 1121.9,372.3 1122.1,376.9 1122.4,371.4 1122.7,376.6 1123.0,371.3 1123.2,372.2 1123.5,381.1 1123.8,377.9 1124.1,369.3 1124.3,377.9 1124.6,371.7 1124.9,378.2 1125.2,370.2 1125.4,373.2 1125.7,364.8 1126.0,363.5 1126.3,372.7 1126.5,370.4 1126.8,377.3 1127.1,376.4 1127.4,368.2 1127.6,375.4 1127.9,368.2 1128.2,374.8 1128.5,368.2 1128.7,372.2 1129.0,366.9 1129.3,372.2 1129.6,365.6 1129.8,365.8 1130.1,372.4 1130.4,364.9 1130.7,374.2 1130.9,363.3 1131.2,369.7 1131.5,359.7 1131.8,371.3 1132.0,368.7 1132.3,374.9 1132.6,374.2 1132.9,367.7 1133.1,371.9 1133.4,366.3 1133.7,366.2 1134.0,373.3 1134.2,365.9 1134.5,372.5 1134.8,371.1 1135.1,362.7 1135.3,369.8 1135.6,363.1 1135.9,364.5 1136.2,370.2 1136.4,371.1 1136.7,365.4 1137.0,370.5 1137.3,363.5 1137.5,370.8 1137.8,364.0 1138.1,371.9 1138.4,365.4 1138.6,362.3 1138.9,371.2 1139.2,362.7 1139.5,370.9 1139.7,368.6 1140.0,364.4 1140.3,368.9 1140.6,362.8 1140.8,366.0 1141.1,375.9 1141.4,369.3 1141.7,374.0 1141.9,374.3 1142.2,369.0 1142.5,367.8 1142.8,360.7 1143.0,362.6 1143.3,370.4 1143.6,365.1 1143.9,370.6 1144.1,373.0 1144.4,363.7 1144.7,366.0 1145.0,372.9 1145.2,373.1 1145.5,366.6 1145.8,370.1 1146.1,364.2 1146.3,367.1 1146.6,361.0 1146.9,366.3 1147.2,362.3 1147.4,364.6 1147.7,359.8 1148.0,362.5 1148.3,372.4 1148.5,368.0 1148.8,373.4 1149.1,368.0 1149.4,375.6 1149.6,373.1 1149.9,367.6 1150.2,373.7 1150.5,368.7 1150.7,371.3 1151.0,378.0 1151.3,376.1 1151.6,366.9 1151.8,366.5 1152.1,374.3 1152.4,375.8 1152.7,366.2 1152.9,369.5 1153.2,375.5 1153.5,375.5 1153.8,368.8 1154.0,368.8 1154.3,374.7 1154.6,371.7 1154.9,377.2 1155.1,377.0 1155.4,370.8 1155.7,376.4 1156.0,368.0 1156.2,376.3 1156.5,370.3 1156.8,377.2 1157.1,371.4 1157.3,378.8 1157.6,373.7 1157.9,370.7 1158.2,378.9 1158.4,374.1 1158.7,378.8 1159.0,374.4 1159.3,380.9 1159.5,373.6 1159.8,380.8 1160.1,379.3 1160.4,373.6 1160.6,372.0 1160.9,380.9 1161.2,381.5 1161.5,374.1 1161.7,380.0 1162.0,369.8 1162.3,371.4 1162.6,379.5 1162.8,374.8 1163.1,380.9 1163.4,370.0 1163.7,378.6 1163.9,372.8 1164.2,366.2 1164.5,367.7 1164.8,360.8 1165.0,374.3 1165.3,365.3 1165.6,368.3 1165.9,374.4 1166.1,369.7 1166.4,377.4 1166.7,371.4 1167.0,378.0 1167.2,378.1 1167.5,372.3 1167.8,370.2 1168.1,380.5 1168.3,375.5 1168.6,370.5 1168.9,368.3 1169.2,375.4 1169.4,372.2 1169.7,379.3 1170.0,376.6 1170.3,384.0 1170.5,382.8 1170.8,373.1 1171.1,377.3 1171.4,371.6 1171.6,371.5 1171.9,379.9 1172.2,374.0 1172.5,381.7 1172.7,382.2 1173.0,373.9 1173.3,370.4 1173.6,378.3 1173.8,377.1 1174.1,371.4 1174.4,379.1 1174.7,373.2 1174.9,379.6 1175.2,371.9 1175.5,374.8 1175.8,382.5 1176.0,377.9 1176.3,382.9 1176.6,375.3 1176.9,383.7 1177.1,380.0 1177.4,372.8 1177.7,372.6 1178.0,377.7 1178.2,373.2 1178.5,379.8 1178.8,376.8 1179.1,382.6 1179.3,376.2 1179.6,383.9 1179.9,381.7 1180.2,372.6 1180.4,379.8 1180.7,372.0 1181.0,374.4 1181.3,384.7 1181.5,386.4 1181.8,376.7 1182.1,382.8 1182.4,374.8 1182.6,380.7 1182.9,374.1 1183.2,372.4 1183.5,377.8 1183.7,375.9 1184.0,382.9 1184.3,375.5 1184.6,382.3 1184.8,380.8 1185.1,373.3 1185.4,371.7 1185.7,376.1 1185.9,372.4 1186.2,381.5 1186.5,381.0 1186.8,375.8 1187.0,375.1 1187.3,382.4 1187.6,381.8 1187.9,376.0 1188.1,378.4 1188.4,385.3 1188.7,380.1 1189.0,387.7 1189.2,385.5 1189.5,377.5 1189.8,386.1 1190.1,377.0 1190.3,380.6 1190.6,385.9 1190.9,383.1 1191.2,376.2 1191.4,379.8 1191.7,387.4 1192.0,388.1 1192.3,380.5 1192.5,389.6 1192.8,378.0 1193.1,385.4 1193.4,378.7 1193.6,386.0 1193.9,378.0 1194.2,379.0 1194.5,370.4 1194.7,378.8 1195.0,371.3 1195.3,374.8 1195.6,379.0 1195.8,376.7 1196.1,384.4 1196.4,376.8 1196.7,382.7 1196.9,380.3 1197.2,375.6 1197.5,372.9 1197.8,378.9 1198.0,375.5 1198.3,369.0 1198.6,368.4 1198.9,380.7 1199.1,376.0 1199.4,382.9 1199.7,383.2 1200.0,378.4 1200.2,380.0 1200.5,373.5 1200.8,375.5 1201.1,368.6 1201.3,372.4 1201.6,378.9 1201.9,374.7 1202.2,386.4 1202.4,384.0 1202.7,376.4 1203.0,377.0 1203.3,383.6 1203.5,376.4 1203.8,383.2 1204.1,384.4 1204.4,378.1 1204.6,381.2 1204.9,387.0 1205.2,386.8 1205.5,381.3 1205.7,381.2 1206.0,388.8 1206.3,385.4 1206.6,389.4 1206.8,390.9 1207.1,382.7 1207.4,382.7 1207.7,387.7 1207.9,385.2 1208.2,389.0 1208.5,392.0 1208.8,385.3 1209.0,385.4 1209.3,394.2 1209.6,392.6 1209.9,384.2 1210.1,391.0 1210.4,385.3 1210.7,388.9 1211.0,382.6 1211.2,380.0 1211.5,386.7 1211.8,380.2 1212.1,391.8 1212.3,386.0 1212.6,393.2 1212.9,389.2 1213.2,383.4 1213.4,380.0 1213.7,385.0 1214.0,379.3 1214.3,386.3 1214.5,388.6 1214.8,383.3 1215.1,382.1 1215.4,387.5 1215.6,389.5 1215.9,381.3 1216.2,382.2 1216.5,389.6 1216.7,383.8 1217.0,391.5 1217.3,389.9 1217.6,383.9 1217.8,389.4 1218.1,383.0 1218.4,387.7 1218.7,379.9 1218.9,381.5 1219.2,388.9 1219.5,391.7 1219.8,384.4 1220.0,390.3 1220.3,381.4 1220.6,380.5 1220.9,387.7 1221.1,378.7 1221.4,384.3 1221.7,378.5 1222.0,386.5 1222.2,378.7 1222.5,384.1 1222.8,378.0 1223.1,385.2 1223.3,380.7 1223.6,389.8 1223.9,387.2 1224.2,379.7 1224.4,381.0 1224.7,387.7 1225.0,390.4 1225.3,381.8 1225.5,385.3 1225.8,379.3 1226.1,380.1 1226.4,387.9 1226.6,384.7 1226.9,391.9 1227.2,389.5 1227.5,383.4 1227.7,386.4 1228.0,380.7 1228.3,386.0 1228.6,380.4 1228.8,387.8 1229.1,380.1 1229.4,387.8 1229.7,382.7 1229.9,389.3 1230.2,384.3 1230.5,385.2 1230.8,392.8 1231.0,385.7 1231.3,392.5 1231.6,390.7 1231.9,386.3 1232.1,384.9 1232.4,391.1 1232.7,384.8 1233.0,391.3 1233.2,389.3 1233.5,382.7 1233.8,390.7 1234.1,382.9 1234.3,384.4 1234.6,393.4 1234.9,385.7 1235.2,393.6 1235.4,385.3 1235.7,392.0 1236.0,387.1 1236.3,394.3 1236.5,392.9 1236.8,386.8 1237.1,387.0 1237.4,393.6 1237.6,387.4 1237.9,394.0 1238.2,394.0 1238.5,388.2 1238.7,390.2 1239.0,385.7 1239.3,390.2 1239.6,383.9 1239.8,388.5 1240.1,383.3 1240.4,390.0 1240.7,383.8 1240.9,383.8 1241.2,391.0 1241.5,385.7 1241.8,394.6 1242.0,387.1 1242.3,397.2 1242.6,390.0 1242.9,396.9 1243.1,391.0 1243.4,397.0 1243.7,397.4 1244.0,390.9 1244.2,391.1 1244.5,398.9 1244.8,395.7 1245.1,390.1 1245.3,388.4 1245.6,394.2 1245.9,390.3 1246.2,396.8 1246.4,395.4 1246.7,388.0 1247.0,384.7 1247.3,392.8 1247.5,392.4 1247.8,387.9 1248.1,397.9 1248.4,388.7 1248.6,390.5 1248.9,396.3 1249.2,394.9 1249.5,384.7 1249.7,387.8 1250.0,379.6 1250.3,379.7 1250.6,385.7 1250.8,381.3 1251.1,390.0 1251.4,388.1 1251.7,401.9 1251.9,399.9 1252.2,392.1 1252.5,395.0 1252.8,386.6 1253.0,390.2 1253.3,398.7 1253.6,399.0 1253.9,393.7 1254.1,392.7 1254.4,399.3 1254.7,395.9 1255.0,388.9 1255.2,390.2 1255.5,399.0 1255.8,393.0 1256.1,400.9 1256.3,398.7 1256.6,394.1 1256.9,395.1 1257.2,404.0 1257.4,396.5 1257.7,406.5 1258.0,399.4 1258.3,392.7 1258.5,395.0 1258.8,389.7 1259.1,395.1 1259.4,389.0 1259.6,398.0 1259.9,392.3 1260.2,395.1 1260.5,387.4 1260.7,390.8 1261.0,385.5 1261.3,391.3 1261.6,386.5 1261.8,392.1 1262.1,385.2 1262.4,393.0 1262.7,385.5 1262.9,393.4 1263.2,387.6 1263.5,388.9 1263.8,394.0 1264.0,387.7 1264.3,393.0 1264.6,394.7 1264.9,386.9 1265.1,388.7 1265.4,398.4 1265.7,399.9 1266.0,389.3 1266.2,392.7 1266.5,385.7 1266.8,390.7 1267.1,394.7 1267.3,396.9 1267.6,389.0 1267.9,392.5 1268.2,387.6 1268.4,390.9 1268.7,381.9 1269.0,385.7 1269.3,392.8 1269.5,391.7 1269.8,397.3 1270.1,396.2 1270.4,389.6 1270.6,395.6 1270.9,387.2 1271.2,390.8 1271.5,384.4 1271.7,387.4 1272.0,394.1 1272.3,389.7 1272.6,394.4 1272.8,395.2 1273.1,389.5 1273.4,395.7 1273.7,389.7 1273.9,391.0 1274.2,385.0 1274.5,382.7 1274.8,388.3 1275.0,384.6 1275.3,393.3 1275.6,387.6 1275.9,396.2 1276.1,390.8 1276.4,397.1 1276.7,395.1 1277.0,388.9 1277.2,387.9 1277.5,394.5 1277.8,387.3 1278.1,394.4 1278.3,396.7 1278.6,389.1 1278.9,392.9 1279.2,398.8 1279.4,392.6 1279.7,397.6 1280.0,396.2 1280.3,390.0 1280.5,390.0 1280.8,396.8 1281.1,391.0 1281.4,399.4 1281.6,395.1 1281.9,401.7 1282.2,399.4 1282.5,393.4 1282.7,399.4 1283.0,393.3 1283.3,392.3 1283.6,400.1 1283.8,403.1 1284.1,393.4 1284.4,395.6 1284.7,402.0 1284.9,399.9 1285.2,394.2 1285.5,390.7 1285.8,398.8 1286.0,390.0 1286.3,396.3 1286.6,387.2 1286.9,395.4 1287.1,392.3 1287.4,400.3 1287.7,399.1 1288.0,394.0 1288.2,392.1 1288.5,399.7 1288.8,390.3 1289.1,396.2 1289.3,398.1 1289.6,390.0 1289.9,391.9 1290.2,399.5 1290.4,397.8 1290.7,404.3 1291.0,394.6 1291.3,401.4 1291.5,398.8 1291.8,394.1 1292.1,393.6 1292.4,400.3 1292.6,395.9 1292.9,402.9 1293.2,404.9 1293.5,397.5 1293.7,402.2 1294.0,395.3 1294.3,399.6 1294.6,392.3 1294.8,392.4 1295.1,398.6 1295.4,400.7 1295.7,392.1 1295.9,397.0 1296.2,390.1 1296.5,390.3 1296.8,398.3 1297.0,398.0 1297.3,392.9 1297.6,397.9 1297.9,391.4 1298.1,392.1 1298.4,399.3 1298.7,396.4 1299.0,402.4 1299.2,404.4 1299.5,396.2 1299.8,401.2 1300.1,395.1 1300.3,401.6 1300.6,391.8 1300.9,397.3 1301.2,390.1 1301.4,387.8 1301.7,393.0 1301.9,393.3 1302.2,388.5" fill="none" stroke="#ff0000" stroke-width="1.39" stroke-linejoin="round"/>
<line x1="139.5" x2="1302.5" y1="616.5" y2="616.5" stroke="#008000" stroke-width="6.94"/>
<polyline points="139.8,314.1 140.1,303.1 140.4,299.9 140.7,307.0 140.9,303.5 141.2,310.4 141.5,306.9 141.8,293.3 142.0,293.3 142.3,287.7 142.6,296.0 142.9,287.1 143.1,291.3 143.4,297.5 143.7,297.6 144.0,289.6 144.2,284.1 144.5,292.4 144.8,285.8 145.1,293.9 145.3,290.0 145.6,297.1 145.9,296.6 146.2,289.6 146.4,293.3 146.7,284.1 147.0,285.3 147.3,299.9 147.5,298.9 147.8,313.3 148.1,306.8 148.4,315.6 148.6,311.2 148.9,295.1 149.2,295.6 149.5,283.8 149.7,292.9 150.0,309.9 150.3,312.3 150.6,300.8 150.8,303.2 151.1,294.4 151.4,299.5 151.7,293.6 151.9,294.6 152.2,303.0 152.5,296.6 152.8,302.8 153.0,297.5 153.3,305.3 153.6,300.7 153.9,306.8 154.1,300.3 154.4,308.4 154.7,306.0 155.0,298.7 155.2,301.1 155.5,308.9 155.8,311.2 156.1,301.6 156.3,303.7 156.6,294.2 156.9,300.9 157.2,321.5 157.4,323.4 157.7,306.5 158.0,309.5 158.3,295.5 158.5,293.1 158.8,299.3 159.1,301.6 159.4,294.8 159.6,296.7 159.9,301.4 160.2,296.6 160.5,304.6 160.7,299.2 161.0,305.0 161.3,301.6 161.6,308.9 161.8,301.3 162.1,307.9 162.4,301.0 162.7,310.9 162.9,308.1 163.2,314.4 163.5,305.9 163.8,313.6 164.0,305.4 164.3,315.2 164.6,320.4 164.9,310.1 165.1,311.1 165.4,299.7 165.7,302.8 166.0,286.2 166.2,291.3 166.5,280.9 166.8,289.1 167.1,301.1 167.3,303.5 167.6,292.0 167.9,293.0 168.2,299.9 168.4,298.9 168.7,309.5 169.0,303.3 169.3,290.6 169.5,291.8 169.8,281.1 170.1,288.2 170.4,280.4 170.6,280.4 170.9,289.5 171.2,287.3 171.5,282.3 171.7,286.7 172.0,278.0 172.3,282.9 172.6,289.9 172.8,289.3 173.1,300.7 173.4,298.0 173.7,309.6 173.9,307.3 174.2,300.9 174.5,303.2 174.8,282.6 175.0,282.2 175.3,265.4 175.6,282.2 175.9,302.4 176.1,304.8 176.4,299.9 176.7,303.2 177.0,295.4 177.2,300.8 177.5,310.2 177.8,310.8 178.1,302.5 178.3,299.7 178.6,308.6 178.9,301.5 179.2,306.8 179.4,307.2 179.7,300.5 180.0,307.5 180.3,299.4 180.5,302.6 180.8,308.5 181.1,307.2 181.4,299.3 181.6,296.9 181.9,306.6 182.2,306.0 182.5,317.1 182.7,318.2 183.0,309.0 183.3,313.2 183.6,307.5 183.8,313.5 184.1,304.6 184.4,306.3 184.7,312.4 184.9,312.7 185.2,303.2 185.5,308.7 185.8,296.9 186.0,300.7 186.3,308.7 186.6,307.8 186.9,297.4 187.1,298.1 187.4,292.1 187.7,296.4 188.0,307.9 188.2,304.5 188.5,313.4 188.8,307.8 189.1,313.5 189.3,311.2 189.6,303.7 189.9,308.7 190.2,300.1 190.4,305.7 190.7,298.1 191.0,306.0 191.3,317.7 191.5,317.5 191.8,306.2 192.1,309.2 192.4,302.5 192.6,304.4 192.9,315.2 193.2,312.3 193.5,306.3 193.7,304.7 194.0,309.3 194.3,305.9 194.6,312.4 194.8,310.7 195.1,305.2 195.4,309.6 195.7,301.9 195.9,308.0 196.2,299.3 196.5,300.5 196.8,306.1 197.0,302.5 197.3,317.8 197.6,317.1 197.9,329.3 198.1,330.2 198.4,322.7 198.7,322.8 199.0,333.4 199.2,328.9 199.5,335.3 199.8,328.0 200.1,311.4 200.3,311.2 200.6,305.4 200.9,304.6 201.2,311.9 201.4,304.6 201.7,310.6 202.0,311.8 202.3,299.3 202.5,307.5 202.8,295.5 203.1,305.9 203.4,327.2 203.6,330.2 203.9,322.6 204.2,329.0 204.5,323.7 204.7,323.6 205.0,312.4 205.3,319.4 205.6,310.3 205.8,317.1 206.1,311.5 206.4,314.9 206.7,320.8 206.9,321.8 207.2,314.1 207.5,322.9 207.8,314.2 208.0,317.3 208.3,325.7 208.6,323.6 208.9,313.0 209.1,309.1 209.4,317.3 209.7,316.8 210.0,328.0 210.2,323.3 210.5,329.4 210.8,331.0 211.1,323.5 211.3,318.9 211.6,326.9 211.9,319.6 212.2,326.2 212.4,322.3 212.7,330.2 213.0,328.0 213.3,337.2 213.5,331.8 213.8,334.9 214.1,334.5 214.4,319.8 214.6,321.4 214.9,311.5 215.2,320.7 215.5,333.5 215.7,335.2 216.0,327.2 216.3,331.3 216.6,323.7 216.8,322.4 217.1,331.7 217.4,324.1 217.7,316.5 217.9,318.4 218.2,311.2 218.5,317.7 218.8,311.3 219.0,314.6 219.3,303.8 219.6,300.4 219.9,308.2 220.1,303.1 220.4,310.6 220.7,307.0 221.0,294.2 221.2,299.9 221.5,290.3 221.8,295.3 222.1,306.5 222.3,303.9 222.6,317.7 222.9,315.3 223.2,322.6 223.4,315.6 223.7,321.8 224.0,315.2 224.3,303.0 224.5,304.1 224.8,297.9 225.1,297.8 225.4,303.3 225.6,300.9 225.9,311.4 226.2,308.5 226.5,313.6 226.7,307.8 227.0,313.2 227.3,311.4 227.6,318.7 227.8,315.2 228.1,321.5 228.4,316.0 228.7,308.3 228.9,310.5 229.2,295.6 229.5,294.2 229.8,308.1 230.0,306.5 230.3,314.2 230.6,313.7 230.9,304.3 231.1,311.9 231.4,302.5 231.7,303.9 232.0,311.8 232.2,307.0 232.5,314.8 232.8,318.0 233.1,308.8 233.3,311.0 233.6,316.6 233.9,316.3 234.2,307.9 234.4,312.4 234.7,324.2 235.0,325.7 235.3,315.8 235.5,317.2 235.8,307.2 236.1,311.5 236.4,303.9 236.6,310.2 236.9,303.3 237.2,303.5 237.5,310.0 237.7,309.0 238.0,318.3 238.3,319.8 238.6,308.3 238.8,309.8 239.1,302.0 239.4,307.9 239.7,317.8 239.9,320.7 240.2,312.2 240.5,315.8 240.8,306.5 241.0,315.2 241.3,331.2 241.6,332.2 241.9,324.0 242.1,324.7 242.4,316.7 242.7,319.0 243.0,309.4 243.2,310.8 243.5,299.7 243.8,304.0 244.1,296.3 244.3,300.6 244.6,308.3 244.9,302.0 245.2,307.9 245.4,301.1 245.7,308.2 246.0,305.6 246.3,298.5 246.5,302.0 246.8,309.9 247.1,307.1 247.4,313.1 247.6,305.8 247.9,313.2 248.2,310.4 248.5,318.6 248.7,318.3 249.0,325.9 249.3,321.6 249.6,329.5 249.8,323.9 250.1,308.2 250.4,314.2 250.7,304.0 250.9,311.5 251.2,319.9 251.5,319.2 251.8,312.6 252.0,312.7 252.3,321.4 252.6,319.5 252.9,329.7 253.1,332.0 253.4,323.2 253.7,333.5 254.0,325.7 254.2,330.3 254.5,317.5 254.8,319.3 255.1,303.3 255.3,305.3 255.6,323.3 255.9,322.4 256.2,329.5 256.4,328.0 256.7,320.4 257.0,325.0 257.3,317.6 257.5,321.0 257.8,312.8 258.1,314.6 258.4,322.1 258.6,320.6 258.9,309.3 259.2,314.6 259.5,308.6 259.7,311.4 260.0,317.7 260.3,311.5 260.6,318.8 260.8,314.1 261.1,327.3 261.4,322.1 261.7,333.8 261.9,328.9 262.2,312.4 262.5,317.0 262.8,309.4 263.0,312.8 263.3,306.4 263.6,310.3 263.9,320.2 264.1,319.5 264.4,329.2 264.7,327.6 265.0,335.4 265.2,328.4 265.5,318.6 265.8,316.7 266.1,323.0 266.3,319.7 266.6,329.0 266.9,326.1 267.2,337.6 267.4,335.5 267.7,323.1 268.0,325.5 268.3,317.6 268.5,322.8 268.8,334.7 269.1,334.2 269.4,324.8 269.6,321.1 269.9,327.9 270.2,323.4 270.5,319.3 270.7,319.8 271.0,328.5 271.3,328.4 271.6,320.4 271.8,319.4 272.1,325.5 272.4,326.3 272.7,319.7 272.9,323.4 273.2,316.7 273.5,317.4 273.8,323.7 274.0,315.2 274.3,320.7 274.6,316.0 274.9,322.5 275.1,316.8 275.4,323.6 275.7,321.0 276.0,311.9 276.2,317.9 276.5,310.8 276.8,308.2 277.1,319.6 277.3,316.8 277.6,332.1 277.9,335.8 278.2,320.9 278.4,323.9 278.7,312.4 279.0,312.8 279.3,321.7 279.5,320.5 279.8,328.1 280.1,324.2 280.4,329.0 280.6,327.0 280.9,317.6 281.2,320.8 281.5,310.3 281.7,314.8 282.0,306.2 282.3,313.3 282.6,327.5 282.8,323.3 283.1,329.8 283.4,329.0 283.7,315.6 283.9,318.2 284.2,304.5 284.5,309.5 284.8,299.2 285.0,300.3 285.3,312.3 285.6,308.3 285.9,320.4 286.1,317.0 286.4,305.8 286.7,309.4 287.0,300.8 287.2,302.8 287.5,294.4 287.8,297.9 288.1,290.8 288.3,291.0 288.6,298.5 288.9,292.0 289.2,301.1 289.4,301.8 289.7,294.6 290.0,295.4 290.3,306.3 290.5,301.8 290.8,311.6 291.1,305.4 291.4,283.9 291.6,286.7 291.9,279.8 292.2,275.0 292.5,285.9 292.7,286.2 293.0,299.8 293.3,299.9 293.6,289.8 293.8,292.9 294.1,286.2 294.4,292.9 294.7,300.7 294.9,300.6 295.2,292.3 295.5,290.2 295.8,298.8 296.0,293.2 296.3,301.5 296.6,302.5 296.9,295.1 297.1,301.4 297.4,293.7 297.7,296.3 298.0,290.7 298.2,288.7 298.5,296.2 298.8,294.1 299.1,287.9 299.3,293.9 299.6,287.5 299.9,289.6 300.2,293.7 300.4,292.1 300.7,280.1 301.0,281.0 301.3,269.1 301.5,272.4 301.8,265.2 302.1,265.2 302.4,277.9 302.6,276.4 302.9,286.6 303.2,287.1 303.5,281.3 303.7,287.6 304.0,280.4 304.3,285.7 304.6,279.4 304.8,282.4 305.1,274.5 305.4,275.6 305.7,290.9 305.9,286.5 306.2,296.0 306.5,288.7 306.8,276.1 307.0,277.3 307.3,285.0 307.6,283.4 307.9,294.9 308.1,293.6 308.4,302.5 308.7,299.9 309.0,283.1 309.2,278.6 309.5,290.8 309.8,287.4 310.1,297.6 310.3,296.8 310.6,288.7 310.9,292.3 311.2,284.9 311.4,283.2 311.7,289.9 312.0,281.9 312.3,271.2 312.5,268.9 312.8,282.9 313.1,280.6 313.4,291.8 313.6,290.1 313.9,282.0 314.2,280.4 314.5,288.2 314.7,289.2 315.0,281.1 315.3,283.3 315.6,293.1 315.8,284.5 316.1,294.0 316.4,292.4 316.7,286.5 316.9,291.9 317.2,301.6 317.5,301.7 317.8,296.2 318.0,298.4 318.3,287.4 318.6,287.7 318.9,268.3 319.1,268.8 319.4,280.0 319.7,278.7 320.0,286.6 320.2,278.7 320.5,284.8 320.8,283.2 321.1,273.5 321.3,270.3 321.6,281.2 321.9,278.9 322.2,297.8 322.4,292.9 322.7,280.5 323.0,276.4 323.3,284.2 323.5,279.8 323.8,285.4 324.1,286.2 324.4,278.6 324.6,284.2 324.9,275.8 325.2,280.5 325.5,271.8 325.7,275.3 326.0,266.5 326.3,267.8 326.6,278.7 326.8,275.5 327.1,282.7 327.4,278.6 327.7,283.7 327.9,279.6 328.2,290.5 328.5,288.2 328.8,294.6 329.0,291.1 329.3,280.9 329.6,283.3 329.9,275.6 330.1,272.4 330.4,277.1 330.7,270.0 331.0,278.9 331.2,277.6 331.5,284.1 331.8,280.4 332.1,289.8 332.3,283.9 332.6,290.4 332.9,286.6 333.2,280.8 333.4,284.4 333.7,276.9 334.0,277.6 334.3,283.5 334.5,280.6 334.8,289.5 335.1,282.5 335.4,292.8 335.6,288.3 335.9,296.4 336.2,291.6 336.5,297.7 336.7,295.8 337.0,303.1 337.3,300.8 337.6,310.2 337.8,308.0 338.1,299.1 338.4,301.9 338.7,291.8 338.9,287.6 339.2,296.2 339.5,289.2 339.8,298.6 340.0,293.7 340.3,303.7 340.6,299.7 340.9,308.6 341.1,302.3 341.4,290.4 341.7,288.3 342.0,295.9 342.2,299.0 342.5,292.8 342.8,300.0 343.1,291.4 343.3,291.7 343.6,299.3 343.9,295.3 344.2,300.3 344.4,296.2 344.7,292.0 345.0,296.7 345.3,289.7 345.5,290.5 345.8,297.1 346.1,297.6 346.4,287.8 346.6,292.7 346.9,280.1 347.2,276.1 347.5,290.3 347.7,288.6 348.0,304.7 348.3,304.5 348.6,299.0 348.8,303.0 349.1,294.5 349.4,297.1 349.7,284.0 349.9,288.3 350.2,281.1 350.5,280.2 350.8,294.2 351.0,289.9 351.3,302.6 351.6,297.9 351.9,286.5 352.1,281.7 352.4,288.6 352.7,288.4 353.0,282.1 353.2,285.8 353.5,280.7 353.8,287.2 354.1,281.1 354.3,280.6 354.6,288.3 354.9,279.4 355.2,286.2 355.4,284.9 355.7,277.1 356.0,273.2 356.3,291.1 356.5,289.4 356.8,312.1 357.1,314.5 357.4,299.4 357.6,302.0 357.9,291.6 358.2,298.3 358.5,310.8 358.7,311.7 359.0,298.7 359.3,294.8 359.6,305.7 359.8,303.0 360.1,314.6 360.4,314.4 360.7,309.8 360.9,313.5 361.2,308.7 361.5,310.6 361.8,304.7 362.0,312.0 362.3,306.8 362.6,312.2 362.9,307.9 363.1,307.6 363.4,314.5 363.7,312.8 364.0,306.5 364.2,312.4 364.5,305.6 364.8,316.7 365.1,307.0 365.3,307.6 365.6,291.4 365.9,288.2 366.2,301.5 366.4,298.9 366.7,308.5 367.0,305.0 367.3,297.7 367.5,299.5 367.8,294.6 368.1,294.2 368.4,299.7 368.6,297.5 368.9,292.0 369.2,291.9 369.5,309.7 369.7,309.3 370.0,316.4 370.3,311.7 370.6,300.5 370.8,302.3 371.1,306.9 371.4,308.3 371.7,295.4 371.9,298.8 372.2,282.8 372.5,284.5 372.8,294.4 373.0,289.5 373.3,297.0 373.6,290.0 373.9,296.8 374.1,295.7 374.4,287.2 374.7,292.1 375.0,286.7 375.2,295.1 375.5,284.8 375.8,292.8 376.1,308.1 376.3,313.3 376.6,301.5 376.9,302.1 377.2,289.0 377.4,288.4 377.7,295.6 378.0,290.4 378.3,302.1 378.5,300.0 378.8,308.0 379.1,300.4 379.4,282.0 379.6,279.7 379.9,294.9 380.2,296.9 380.5,306.0 380.7,298.6 381.0,287.5 381.3,283.5 381.6,291.8 381.8,292.6 382.1,286.6 382.4,292.2 382.7,286.9 382.9,285.4 383.2,293.5 383.5,288.0 383.8,281.2 384.0,286.7 384.3,279.0 384.6,290.0 384.9,279.2 385.1,287.4 385.4,294.1 385.7,291.5 386.0,297.7 386.2,295.8 386.5,303.8 386.8,301.1 387.1,308.9 387.3,304.5 387.6,308.8 387.9,309.3 388.2,294.5 388.4,303.5 388.7,293.8 389.0,301.4 389.3,309.4 389.5,307.3 389.8,296.6 390.1,303.6 390.4,291.6 390.6,295.2 390.9,289.8 391.2,289.7 391.5,296.1 391.7,295.8 392.0,289.4 392.3,296.1 392.6,287.5 392.8,293.6 393.1,303.5 393.4,297.0 393.7,301.5 393.9,296.0 394.2,303.1 394.5,298.7 394.8,306.7 395.0,306.9 395.3,301.6 395.6,300.8 395.9,306.1 396.1,299.6 396.4,306.3 396.7,300.7 397.0,306.0 397.2,305.5 397.5,297.6 397.8,302.4 398.1,295.5 398.3,300.0 398.6,311.7 398.9,312.3 399.2,317.3 399.4,318.1 399.7,311.6 400.0,314.4 400.3,320.9 400.5,320.7 400.8,314.5 401.1,322.5 401.4,314.6 401.6,321.9 401.9,316.8 402.2,318.3 402.5,327.3 402.7,332.2 403.0,323.2 403.3,325.3 403.6,335.1 403.8,332.3 404.1,323.2 404.4,324.3 404.7,317.3 404.9,320.8 405.2,331.3 405.5,327.3 405.8,320.9 406.0,325.5 406.3,314.6 406.6,321.3 406.9,330.3 407.1,331.8 407.4,325.2 407.7,324.9 408.0,330.2 408.2,329.8 408.5,324.2 408.8,324.6 409.1,335.4 409.3,333.7 409.6,341.7 409.9,338.4 410.2,329.6 410.4,334.6 410.7,327.3 411.0,322.5 411.3,330.3 411.5,315.8 411.8,322.5 412.1,321.5 412.4,332.6 412.6,329.2 412.9,337.2 413.2,335.3 413.5,342.3 413.7,336.6 414.0,342.5 414.3,340.8 414.6,328.2 414.8,330.7 415.1,318.3 415.4,322.1 415.7,332.9 415.9,330.5 416.2,339.8 416.5,336.8 416.8,332.3 417.0,330.9 417.3,338.3 417.6,335.8 417.9,324.4 418.1,327.4 418.4,319.4 418.7,322.1 419.0,329.5 419.2,327.1 419.5,334.7 419.8,331.6 420.1,338.5 420.3,336.0 420.6,325.5 420.9,329.8 421.2,319.9 421.4,325.1 421.7,316.9 422.0,319.8 422.3,330.2 422.5,321.7 422.8,330.7 423.1,327.3 423.4,321.7 423.6,320.1 423.9,325.5 424.2,325.0 424.5,315.6 424.7,312.8 425.0,326.2 425.3,324.7 425.6,337.9 425.8,336.7 426.1,322.7 426.4,330.0 426.7,322.5 426.9,326.1 427.2,334.7 427.5,330.7 427.8,315.2 428.0,313.0 428.3,319.1 428.6,319.6 428.9,327.3 429.1,322.7 429.4,327.6 429.7,328.4 430.0,319.2 430.2,322.4 430.5,315.9 430.8,316.7 431.1,321.6 431.3,319.9 431.6,313.5 431.9,313.1 432.2,321.4 432.4,318.9 432.7,329.6 433.0,329.9 433.3,322.1 433.5,318.5 433.8,326.4 434.1,318.3 434.4,326.7 434.6,325.9 434.9,322.0 435.2,320.4 435.5,329.5 435.7,316.4 436.0,323.4 436.3,313.8 436.6,322.0 436.8,323.4 437.1,314.7 437.4,317.9 437.7,308.8 437.9,319.8 438.2,312.5 438.5,322.6 438.8,317.8 439.0,317.4 439.3,322.8 439.6,318.4 439.9,325.6 440.1,326.1 440.4,318.7 440.7,322.2 441.0,328.2 441.2,327.4 441.5,318.3 441.8,317.4 442.1,327.8 442.3,323.7 442.6,331.4 442.9,330.3 443.2,342.0 443.4,338.6 443.7,328.7 444.0,329.4 444.3,320.9 444.5,326.2 444.8,320.8 445.1,326.5 445.4,315.0 445.6,319.1 445.9,312.1 446.2,316.1 446.5,308.5 446.7,311.8 447.0,305.5 447.3,311.4 447.6,304.5 447.8,308.5 448.1,299.4 448.4,302.9 448.7,297.7 448.9,293.9 449.2,303.5 449.5,296.7 449.8,287.9 450.0,289.4 450.3,296.9 450.6,299.3 450.9,293.2 451.1,295.0 451.4,289.2 451.7,290.2 452.0,295.2 452.2,288.7 452.5,301.6 452.8,300.6 453.1,308.4 453.3,308.1 453.6,300.7 453.9,302.8 454.2,309.7 454.4,304.6 454.7,314.2 455.0,311.1 455.3,317.7 455.5,315.4 455.8,308.0 456.1,314.7 456.4,307.4 456.6,304.8 456.9,312.8 457.2,310.2 457.5,304.4 457.7,307.3 458.0,301.4 458.3,303.1 458.6,295.3 458.8,297.2 459.1,307.8 459.4,306.4 459.7,314.3 459.9,310.1 460.2,303.3 460.5,307.4 460.8,300.6 461.0,307.5 461.3,299.0 461.6,303.0 461.9,310.1 462.1,309.4 462.4,301.0 462.7,305.3 463.0,299.0 463.2,302.2 463.5,294.5 463.8,298.7 464.1,307.6 464.3,307.2 464.6,314.9 464.9,312.9 465.2,320.9 465.4,318.3 465.7,311.1 466.0,310.6 466.3,324.7 466.5,326.2 466.8,333.9 467.1,326.3 467.4,303.7 467.6,309.0 467.9,298.8 468.2,313.4 468.5,304.3 468.7,308.3 469.0,291.6 469.3,291.7 469.6,302.5 469.8,302.0 470.1,315.6 470.4,312.6 470.7,329.1 470.9,322.7 471.2,330.5 471.5,319.9 471.8,332.0 472.0,321.9 472.3,306.9 472.6,304.5 472.9,313.4 473.1,314.6 473.4,309.4 473.7,311.5 474.0,305.5 474.2,307.5 474.5,299.7 474.8,305.3 475.1,296.7 475.3,303.6 475.6,312.2 475.9,309.3 476.2,300.9 476.4,299.6 476.7,307.6 477.0,300.6 477.3,306.1 477.5,299.6 477.8,309.0 478.1,302.6 478.4,310.7 478.6,309.8 478.9,320.0 479.2,317.6 479.5,327.3 479.7,329.5 480.0,317.4 480.3,321.1 480.6,311.1 480.8,304.9 481.1,312.9 481.4,304.8 481.7,308.7 481.9,309.7 482.2,304.5 482.5,305.2 482.8,314.5 483.0,309.3 483.3,304.3 483.6,307.7 483.9,299.1 484.1,301.5 484.4,291.5 484.7,298.1 485.0,292.7 485.2,301.3 485.5,294.7 485.8,299.6 486.1,307.9 486.3,308.3 486.6,300.1 486.9,295.7 487.2,305.3 487.4,300.5 487.7,311.5 488.0,310.2 488.3,298.3 488.5,299.4 488.8,307.1 489.1,314.0 489.4,302.3 489.6,314.8 489.9,305.7 490.2,309.4 490.5,301.6 490.7,302.3 491.0,307.8 491.3,308.5 491.6,302.2 491.8,308.5 492.1,302.0 492.4,308.5 492.7,300.8 492.9,308.9 493.2,321.4 493.5,325.8 493.8,311.9 494.0,312.6 494.3,300.2 494.6,306.5 494.9,301.1 495.1,305.9 495.4,299.5 495.7,303.8 496.0,312.5 496.2,310.4 496.5,320.1 496.8,317.6 497.1,308.9 497.3,311.6 497.6,303.1 497.9,307.2 498.2,299.6 498.4,301.2 498.7,306.8 499.0,306.0 499.3,300.3 499.5,295.1 499.8,303.5 500.1,297.6 500.4,289.1 500.6,292.9 500.9,285.9 501.2,287.3 501.5,293.8 501.7,291.8 502.0,305.2 502.3,308.8 502.6,297.0 502.8,300.8 503.1,283.5 503.4,286.5 503.7,296.3 503.9,292.1 504.2,301.0 504.5,298.2 504.8,305.5 505.0,304.4 505.3,298.4 505.6,299.5 505.9,308.3 506.1,307.4 506.4,312.5 506.7,310.7 507.0,302.0 507.2,304.1 507.5,296.2 507.8,301.7 508.1,294.6 508.3,301.2 508.6,312.1 508.9,311.3 509.2,300.4 509.4,296.5 509.7,305.2 510.0,298.5 510.3,302.3 510.5,305.2 510.8,298.8 511.1,305.7 511.4,293.6 511.6,298.2 511.9,291.1 512.2,290.9 512.5,278.1 512.7,280.3 513.0,271.4 513.3,271.6 513.6,264.9 513.8,267.6 514.1,290.1 514.4,299.5 514.7,289.4 514.9,292.6 515.2,276.4 515.5,280.1 515.8,269.5 516.0,275.0 516.3,266.8 516.6,276.3 516.9,287.7 517.1,283.4 517.4,293.7 517.7,288.9 518.0,296.1 518.2,299.9 518.5,292.9 518.8,297.5 519.1,302.3 519.3,301.3 519.6,287.7 519.9,286.6 520.2,277.5 520.4,283.1 520.7,297.9 521.0,301.2 521.3,292.6 521.5,295.3 521.8,288.3 522.1,297.6 522.4,290.0 522.6,297.3 522.9,286.3 523.2,284.7 523.5,278.1 523.7,285.0 524.0,277.6 524.3,286.7 524.6,279.6 524.8,285.4 525.1,278.0 525.4,283.4 525.7,275.9 525.9,276.3 526.2,282.6 526.5,286.8 526.8,281.3 527.0,283.3 527.3,276.6 527.6,276.4 527.9,284.5 528.1,283.1 528.4,277.9 528.7,283.1 529.0,272.4 529.2,280.9 529.5,289.5 529.8,289.2 530.1,295.0 530.3,287.9 530.6,293.1 530.9,293.1 531.2,283.9 531.4,289.5 531.7,283.8 532.0,282.0 532.3,286.2 532.5,283.3 532.8,291.5 533.1,290.9 533.4,281.3 533.6,289.1 533.9,281.6 534.2,286.8 534.5,303.2 534.7,297.4 535.0,305.1 535.3,290.9 535.6,301.5 535.8,296.5 536.1,286.8 536.4,289.2 536.7,277.7 536.9,282.4 537.2,275.6 537.5,277.1 537.8,286.1 538.0,283.2 538.3,272.1 538.6,277.8 538.9,270.2 539.1,274.3 539.4,282.1 539.7,282.8 540.0,297.7 540.2,296.0 540.5,304.3 540.8,298.3 541.1,290.6 541.3,298.7 541.6,289.4 541.9,299.5 542.2,293.2 542.4,295.0 542.7,286.5 543.0,292.2 543.3,286.8 543.5,287.1 543.8,300.7 544.1,296.9 544.4,307.9 544.6,304.9 544.9,312.8 545.2,307.4 545.5,313.4 545.7,311.9 546.0,301.0 546.3,298.9 546.6,279.6 546.8,277.1 547.1,284.5 547.4,283.9 547.7,290.1 547.9,289.6 548.2,297.9 548.5,296.7 548.8,306.9 549.0,305.4 549.3,315.0 549.6,313.4 549.9,308.3 550.1,309.7 550.4,314.8 550.7,315.3 551.0,307.7 551.2,308.6 551.5,314.8 551.8,310.4 552.1,300.7 552.3,300.1 552.6,294.3 552.9,298.1 553.2,290.0 553.4,293.7 553.7,304.5 554.0,301.6 554.3,309.3 554.5,305.8 554.8,299.6 555.1,304.2 555.4,295.7 555.6,295.8 555.9,300.4 556.2,298.4 556.5,293.4 556.7,293.5 557.0,300.1 557.3,294.1 557.6,304.0 557.8,299.7 558.1,305.8 558.4,304.6 558.7,290.4 558.9,294.5 559.2,288.5 559.5,289.4 559.8,283.4 560.0,288.0 560.3,294.7 560.6,292.6 560.9,300.4 561.1,300.2 561.4,295.3 561.7,299.3 562.0,294.2 562.2,292.9 562.5,300.0 562.8,291.8 563.1,300.7 563.3,294.1 563.6,286.0 563.9,285.1 564.2,295.3 564.4,301.6 564.7,292.3 565.0,298.5 565.3,312.7 565.5,309.8 565.8,299.5 566.1,302.4 566.4,295.3 566.6,299.3 566.9,291.0 567.2,301.8 567.5,293.5 567.7,305.8 568.0,296.1 568.3,301.5 568.6,292.5 568.8,294.9 569.1,304.8 569.4,303.5 569.7,295.3 569.9,297.6 570.2,289.5 570.5,286.7 570.8,293.3 571.0,286.6 571.3,295.0 571.6,292.0 571.9,302.5 572.1,299.8 572.4,306.8 572.7,307.5 573.0,302.7 573.2,308.2 573.5,295.7 573.8,297.9 574.1,283.5 574.3,287.0 574.6,279.3 574.9,287.0 575.2,279.7 575.4,282.8 575.7,292.0 576.0,285.4 576.3,293.4 576.5,292.6 576.8,284.9 577.1,297.2 577.4,288.3 577.6,293.7 577.9,298.4 578.2,293.9 578.5,299.2 578.7,292.4 579.0,300.6 579.3,295.9 579.6,280.9 579.8,285.5 580.1,276.0 580.4,280.5 580.7,290.2 580.9,284.7 581.2,292.3 581.5,288.1 581.8,297.8 582.0,294.2 582.3,305.3 582.6,297.3 582.9,304.7 583.1,293.4 583.4,302.1 583.7,297.0 584.0,291.6 584.2,293.4 584.5,279.7 584.8,276.6 585.1,286.5 585.3,286.5 585.6,294.1 585.9,290.3 586.2,297.4 586.4,295.7 586.7,289.0 587.0,289.6 587.3,295.3 587.5,290.1 587.8,302.2 588.1,300.0 588.4,293.1 588.6,300.5 588.9,293.6 589.2,301.2 589.5,295.2 589.7,299.1 590.0,313.2 590.3,317.2 590.6,300.3 590.8,300.5 591.1,279.5 591.4,282.7 591.7,274.9 591.9,282.4 592.2,272.3 592.5,281.8 592.8,291.0 593.0,281.5 593.3,291.8 593.6,287.6 593.9,280.7 594.1,284.2 594.4,277.6 594.7,275.1 595.0,282.5 595.2,281.2 595.5,272.8 595.8,277.0 596.1,269.7 596.3,271.6 596.6,278.6 596.9,279.8 597.2,273.0 597.4,277.3 597.7,271.4 598.0,267.8 598.3,275.4 598.5,266.4 598.8,277.4 599.1,268.1 599.4,274.5 599.6,276.5 599.9,269.3 600.2,274.3 600.5,267.4 600.7,266.1 601.0,273.3 601.3,274.6 601.6,267.7 601.8,272.7 602.1,266.1 602.4,271.7 602.7,263.8 602.9,268.9 603.2,262.6 603.5,258.8 603.8,266.3 604.0,258.0 604.3,270.4 604.6,266.5 604.9,279.9 605.1,276.3 605.4,265.9 605.7,268.7 606.0,255.4 606.2,262.1 606.5,248.6 606.8,251.6 607.1,269.5 607.3,270.8 607.6,258.7 607.9,259.3 608.2,250.9 608.4,257.2 608.7,272.1 609.0,278.9 609.3,267.6 609.5,277.5 609.8,285.5 610.1,282.4 610.4,288.2 610.6,289.7 610.9,282.4 611.2,283.8 611.5,277.6 611.7,280.3 612.0,268.2 612.3,270.2 612.6,279.7 612.8,278.2 613.1,285.9 613.4,283.6 613.7,271.2 613.9,271.8 614.2,276.9 614.5,277.7 614.8,268.7 615.0,271.6 615.3,258.0 615.6,259.1 615.9,264.3 616.1,267.0 616.4,254.2 616.7,253.0 617.0,237.9 617.2,242.3 617.5,253.7 617.8,249.0 618.1,259.8 618.3,249.8 618.6,237.5 618.9,240.3 619.2,248.5 619.4,245.6 619.7,250.7 620.0,242.7 620.3,250.1 620.5,246.2 620.8,259.5 621.1,256.3 621.4,262.8 621.6,258.0 621.9,252.1 622.2,257.5 622.5,247.9 622.7,245.9 623.0,262.3 623.3,262.1 623.6,268.5 623.8,266.2 624.1,256.6 624.4,262.4 624.7,232.4 624.9,233.7 625.2,222.4 625.5,231.5 625.8,251.5 626.0,251.4 626.3,241.5 626.6,245.5 626.9,237.5 627.1,245.4 627.4,253.9 627.7,254.6 628.0,248.9 628.2,255.8 628.5,243.7 628.8,248.0 629.1,233.9 629.3,238.1 629.6,254.1 629.9,255.0 630.2,262.9 630.4,267.1 630.7,258.1 631.0,260.9 631.3,243.9 631.5,246.1 631.8,238.5 632.1,243.9 632.4,251.2 632.6,249.9 632.9,242.3 633.2,248.0 633.5,242.5 633.7,248.2 634.0,242.5 634.3,244.3 634.6,251.2 634.8,249.4 635.1,238.9 635.4,242.3 635.7,233.5 635.9,236.3 636.2,244.8 636.5,245.3 636.8,238.3 637.0,245.2 637.3,239.5 637.6,241.8 637.9,247.7 638.1,241.5 638.4,250.3 638.7,253.1 639.0,244.3 639.2,244.0 639.5,234.7 639.8,235.3 640.1,245.7 640.3,242.6 640.6,249.6 640.9,249.2 641.2,242.8 641.4,248.1 641.7,242.3 642.0,246.1 642.3,236.5 642.5,238.3 642.8,224.5 643.1,221.6 643.4,227.9 643.6,226.7 643.9,218.0 644.2,224.5 644.5,217.3 644.7,222.2 645.0,231.8 645.3,228.8 645.6,236.0 645.8,237.4 646.1,230.3 646.4,233.9 646.7,243.3 646.9,237.7 647.2,244.8 647.5,243.6 647.8,233.0 648.0,234.4 648.3,220.9 648.6,218.4 648.9,234.3 649.1,235.3 649.4,247.2 649.7,248.5 650.0,242.1 650.2,244.3 650.5,251.2 650.8,247.8 651.1,253.9 651.3,250.7 651.6,240.7 651.9,240.6 652.2,251.2 652.4,247.9 652.7,254.3 653.0,248.4 653.3,253.9 653.5,251.6 653.8,243.2 654.1,238.6 654.4,249.8 654.6,247.4 654.9,263.5 655.2,260.8 655.5,250.7 655.7,256.3 656.0,248.8 656.3,255.5 656.6,250.4 656.8,252.0 657.1,258.4 657.4,258.1 657.7,251.4 657.9,246.3 658.2,255.9 658.5,251.1 658.8,243.4 659.0,250.9 659.3,242.6 659.6,248.6 659.9,255.8 660.1,254.3 660.4,246.3 660.7,250.9 661.0,244.6 661.2,250.9 661.5,244.1 661.8,248.4 662.1,240.8 662.3,240.5 662.6,252.6 662.9,250.9 663.2,260.9 663.4,256.7 663.7,266.5 664.0,265.5 664.3,252.5 664.5,254.9 664.8,246.0 665.1,251.0 665.4,261.9 665.6,256.1 665.9,261.0 666.2,262.8 666.5,256.3 666.7,266.3 667.0,258.9 667.3,261.2 667.6,273.4 667.8,271.8 668.1,278.7 668.4,276.9 668.7,268.9 668.9,272.5 669.2,254.1 669.5,255.9 669.8,246.6 670.0,250.4 670.3,244.1 670.6,248.8 670.9,238.9 671.1,240.3 671.4,232.6 671.7,238.8 672.0,245.7 672.2,242.0 672.5,254.2 672.8,252.9 673.1,242.0 673.3,244.0 673.6,233.2 673.9,241.0 674.2,256.8 674.4,259.0 674.7,249.0 675.0,252.9 675.3,245.5 675.5,251.6 675.8,245.9 676.1,246.8 676.4,254.2 676.6,252.0 676.9,259.2 677.2,257.0 677.5,268.8 677.7,266.8 678.0,256.4 678.3,252.9 678.6,259.0 678.8,250.4 679.1,256.2 679.4,250.0 679.7,259.7 679.9,257.2 680.2,243.1 680.5,240.6 680.8,221.5 681.0,231.3 681.3,251.7 681.6,245.4 681.9,261.6 682.1,245.6 682.4,230.4 682.7,234.1 683.0,243.7 683.2,241.9 683.5,249.8 683.8,249.0 684.1,257.7 684.3,255.4 684.6,242.2 684.9,242.6 685.2,233.8 685.4,241.7 685.7,231.6 686.0,238.0 686.3,254.9 686.5,257.5 686.8,247.2 687.1,244.1 687.4,251.6 687.6,247.2 687.9,255.5 688.2,252.7 688.5,244.3 688.7,247.7 689.0,239.6 689.3,240.9 689.6,233.2 689.8,232.8 690.1,242.2 690.4,237.8 690.7,245.8 690.9,238.3 691.2,226.7 691.5,228.2 691.8,242.6 692.0,237.5 692.3,249.3 692.6,236.9 692.9,214.9 693.1,215.9 693.4,222.3 693.7,215.8 694.0,222.6 694.2,219.3 694.5,228.4 694.8,223.9 695.1,234.2 695.3,233.7 695.6,226.5 695.9,227.3 696.2,220.4 696.4,221.3 696.7,230.0 697.0,227.6 697.3,238.9 697.5,238.6 697.8,246.6 698.1,241.8 698.4,231.1 698.6,227.4 698.9,236.7 699.2,232.9 699.5,241.7 699.7,233.2 700.0,240.1 700.3,235.9 700.6,224.0 700.8,224.3 701.1,217.3 701.4,225.7 701.7,216.3 701.9,218.5 702.2,229.2 702.5,227.2 702.8,231.5 703.0,231.6 703.3,226.6 703.6,228.5 703.9,219.6 704.1,225.0 704.4,217.8 704.7,225.5 705.0,216.3 705.2,223.1 705.5,241.2 705.8,239.1 706.1,248.1 706.3,245.7 706.6,239.1 706.9,243.4 707.2,236.9 707.4,239.6 707.7,232.8 708.0,234.9 708.3,226.3 708.5,228.1 708.8,234.5 709.1,231.8 709.4,248.7 709.6,244.4 709.9,260.1 710.2,252.5 710.5,235.7 710.7,231.7 711.0,240.6 711.3,246.8 711.6,237.9 711.8,239.1 712.1,224.0 712.4,219.4 712.7,228.0 712.9,223.1 713.2,237.7 713.5,235.7 713.8,256.6 714.0,256.5 714.3,238.6 714.6,238.1 714.9,231.9 715.1,240.5 715.4,255.1 715.7,253.3 716.0,241.8 716.2,245.9 716.5,236.1 716.8,234.1 717.1,242.5 717.3,234.7 717.6,246.9 717.9,249.9 718.2,237.0 718.4,238.4 718.7,222.3 719.0,222.9 719.3,230.4 719.5,223.7 719.8,231.4 720.1,229.2 720.4,221.0 720.6,222.9 720.9,212.8 721.2,206.5 721.5,223.7 721.7,221.2 722.0,239.4 722.3,238.2 722.6,225.4 722.8,225.3 723.1,234.5 723.4,230.2 723.7,239.5 723.9,237.8 724.2,249.8 724.5,248.3 724.8,229.8 725.0,230.0 725.3,218.4 725.6,225.5 725.9,241.6 726.1,240.8 726.4,248.6 726.7,252.0 727.0,244.6 727.2,250.1 727.5,258.9 727.8,257.2 728.1,246.1 728.3,251.4 728.6,242.4 728.9,241.9 729.2,246.5 729.4,243.5 729.7,238.3 730.0,239.6 730.3,234.0 730.5,245.0 730.8,238.1 731.1,242.0 731.4,233.1 731.6,231.7 731.9,244.5 732.2,244.1 732.5,258.7 732.7,253.4 733.0,259.8 733.3,258.3 733.6,249.8 733.8,255.6 734.1,261.6 734.4,256.9 734.7,262.9 734.9,265.1 735.2,259.1 735.5,263.2 735.8,256.9 736.0,260.8 736.3,255.0 736.6,259.2 736.9,251.6 737.1,244.4 737.4,253.4 737.7,250.7 738.0,269.4 738.2,271.2 738.5,256.9 738.8,258.8 739.1,248.3 739.3,253.3 739.6,260.9 739.9,262.1 740.2,252.1 740.4,254.5 740.7,244.4 741.0,247.3 741.3,237.7 741.5,238.9 741.8,248.9 742.1,248.4 742.4,254.7 742.6,253.7 742.9,246.5 743.2,248.4 743.5,237.4 743.7,238.7 744.0,231.4 744.3,242.7 744.6,235.3 744.8,239.2 745.1,246.8 745.4,242.6 745.7,249.3 745.9,241.9 746.2,248.7 746.5,249.6 746.8,243.9 747.0,247.0 747.3,237.0 747.6,243.1 747.9,230.9 748.1,229.2 748.4,234.9 748.7,233.5 749.0,224.8 749.2,222.6 749.5,228.8 749.8,228.1 750.1,220.2 750.3,229.7 750.6,221.1 750.9,228.1 751.2,236.4 751.4,236.2 751.7,228.6 752.0,231.6 752.3,220.7 752.5,217.7 752.8,229.0 753.1,225.9 753.4,244.8 753.6,245.8 753.9,251.7 754.2,251.3 754.5,240.5 754.7,240.8 755.0,222.5 755.3,221.9 755.6,228.6 755.8,231.1 756.1,223.4 756.4,225.8 756.7,219.0 756.9,224.7 757.2,218.1 757.5,225.0 757.8,213.2 758.0,215.6 758.3,202.6 758.6,205.5 758.9,215.2 759.1,215.9 759.4,221.4 759.7,217.3 760.0,225.9 760.2,220.9 760.5,233.2 760.8,235.0 761.1,219.8 761.3,221.9 761.6,206.4 761.9,211.5 762.2,223.1 762.4,226.9 762.7,218.5 763.0,231.0 763.3,222.9 763.5,229.3 763.8,241.7 764.1,239.7 764.4,231.0 764.6,234.4 764.9,227.2 765.2,229.6 765.5,223.1 765.7,218.6 766.0,227.6 766.3,224.9 766.6,213.7 766.8,221.3 767.1,206.4 767.4,208.0 767.7,218.3 767.9,215.3 768.2,222.4 768.5,216.4 768.8,221.9 769.0,221.2 769.3,216.0 769.6,216.1 769.9,223.0 770.1,213.9 770.4,222.9 770.7,219.7 771.0,231.2 771.2,231.0 771.5,237.7 771.8,232.6 772.1,222.8 772.3,224.0 772.6,209.6 772.9,208.7 773.2,216.1 773.4,213.3 773.7,225.8 774.0,221.7 774.3,212.5 774.5,213.2 774.8,206.1 775.1,201.0 775.4,216.3 775.6,211.9 775.9,238.6 776.2,239.3 776.5,227.9 776.7,229.5 777.0,219.8 777.3,225.3 777.6,219.9 777.8,218.9 778.1,224.9 778.4,219.4 778.7,226.1 778.9,222.2 779.2,232.3 779.5,232.6 779.8,218.2 780.0,211.2 780.3,224.4 780.6,222.9 780.9,236.4 781.1,234.5 781.4,224.5 781.7,224.9 782.0,216.3 782.2,226.5 782.5,220.5 782.8,224.4 783.1,232.2 783.3,231.3 783.6,225.4 783.9,231.6 784.2,225.3 784.4,229.3 784.7,220.3 785.0,219.8 785.3,225.4 785.5,224.0 785.8,232.9 786.1,231.4 786.4,242.9 786.6,247.2 786.9,234.7 787.2,231.4 787.5,219.8 787.7,224.8 788.0,217.2 788.3,221.3 788.6,216.4 788.8,220.0 789.1,213.6 789.4,221.6 789.7,204.8 789.9,208.0 790.2,219.1 790.5,221.2 790.8,227.6 791.0,221.7 791.3,213.2 791.6,210.6 791.9,227.6 792.1,225.2 792.4,235.8 792.7,226.9 793.0,210.6 793.2,210.3 793.5,226.0 793.8,218.8 794.1,230.4 794.3,217.6 794.6,198.4 794.9,205.0 795.2,197.4 795.4,201.0 795.7,209.2 796.0,202.4 796.3,192.9 796.5,195.0 796.8,203.7 797.1,207.3 797.4,199.8 797.6,201.3 797.9,208.7 798.2,207.4 798.5,218.7 798.7,216.9 799.0,224.2 799.3,217.0 799.6,224.6 799.8,217.5 800.1,198.6 800.4,199.5 800.7,192.8 800.9,196.5 801.2,188.9 801.5,194.6 801.8,205.7 802.0,203.4 802.3,211.3 802.6,212.7 802.9,207.2 803.1,203.4 803.4,210.3 803.7,203.0 804.0,209.6 804.2,203.6 804.5,216.9 804.8,214.8 805.1,223.5 805.3,222.4 805.6,206.8 805.9,208.7 806.2,198.9 806.4,202.2 806.7,193.0 807.0,193.8 807.3,177.9 807.5,179.8 807.8,171.1 808.1,178.6 808.4,194.3 808.6,191.2 808.9,198.6 809.2,199.8 809.5,188.3 809.7,189.9 810.0,176.0 810.3,180.4 810.6,196.6 810.8,201.7 811.1,189.0 811.4,191.6 811.7,181.3 811.9,185.9 812.2,179.8 812.5,177.7 812.8,185.8 813.0,189.7 813.3,182.3 813.6,186.6 813.9,193.3 814.1,187.0 814.4,201.3 814.7,199.2 815.0,207.9 815.2,208.6 815.5,203.8 815.8,202.0 816.1,209.0 816.3,208.3 816.6,203.6 816.9,207.8 817.2,197.7 817.4,196.5 817.7,205.9 818.0,201.4 818.3,209.6 818.5,204.0 818.8,210.5 819.1,206.5 819.4,183.7 819.6,189.9 819.9,176.5 820.2,189.9 820.5,205.8 820.7,204.9 821.0,194.8 821.3,195.5 821.6,206.0 821.8,204.0 822.1,212.8 822.4,210.4 822.7,183.0 822.9,185.8 823.2,171.8 823.5,173.0 823.8,161.7 824.0,161.6 824.3,168.7 824.6,163.7 824.9,177.0 825.1,172.2 825.4,185.0 825.7,179.1 826.0,163.6 826.2,159.8 826.5,172.3 826.8,169.2 827.1,179.3 827.3,174.0 827.6,165.0 827.9,163.4 828.2,180.3 828.4,176.4 828.7,184.6 829.0,174.0 829.3,182.2 829.5,179.6 829.8,169.2 830.1,180.2 830.4,164.5 830.6,167.6 830.9,146.6 831.2,148.8 831.5,154.7 831.7,156.2 832.0,149.9 832.3,155.3 832.6,146.4 832.8,149.9 833.1,190.8 833.4,188.8 833.7,207.2 833.9,188.7 834.2,162.3 834.5,164.5 834.8,176.3 835.0,173.2 835.3,185.5 835.6,184.5 835.9,199.0 836.1,197.0 836.4,212.0 836.7,207.5 837.0,215.3 837.2,207.9 837.5,197.9 837.8,200.8 838.1,191.3 838.3,195.9 838.6,189.0 838.9,191.8 839.2,184.3 839.4,187.1 839.7,175.1 840.0,176.7 840.3,195.2 840.5,194.5 840.8,209.1 841.1,207.8 841.4,201.1 841.6,205.5 841.9,193.7 842.2,195.7 842.5,186.1 842.7,187.4 843.0,177.1 843.3,177.6 843.6,187.6 843.8,183.3 844.1,191.6 844.4,188.3 844.7,192.4 844.9,190.6 845.2,173.2 845.5,172.1 845.8,162.0 846.0,172.1 846.3,183.3 846.6,181.6 846.9,173.5 847.1,174.4 847.4,167.8 847.7,167.5 848.0,173.4 848.2,165.6 848.5,149.6 848.8,144.7 849.1,153.6 849.3,151.5 849.6,162.0 849.9,162.1 850.2,179.9 850.4,179.0 850.7,186.7 851.0,184.0 851.3,176.8 851.5,180.5 851.8,192.8 852.1,187.8 852.4,193.1 852.6,185.6 852.9,192.5 853.2,190.9 853.5,184.7 853.7,191.1 854.0,184.0 854.3,182.3 854.6,190.4 854.8,187.8 855.1,181.4 855.4,182.9 855.7,188.5 855.9,191.0 856.2,183.6 856.5,187.4 856.8,176.1 857.0,180.8 857.3,195.4 857.6,188.2 857.9,202.5 858.1,187.8 858.4,171.7 858.7,175.1 859.0,168.1 859.2,171.5 859.5,182.5 859.8,179.0 860.1,190.9 860.3,186.6 860.6,173.4 860.9,171.8 861.2,183.1 861.4,180.8 861.7,196.0 862.0,193.1 862.3,200.9 862.5,191.2 862.8,204.3 863.1,196.4 863.4,180.3 863.6,180.7 863.9,172.0 864.2,170.8 864.5,184.6 864.7,184.3 865.0,193.6 865.3,190.8 865.6,180.5 865.8,180.1 866.1,170.7 866.4,165.6 866.7,176.8 866.9,176.7 867.2,196.5 867.5,198.9 867.8,186.7 868.0,189.8 868.3,179.8 868.6,183.4 868.9,196.5 869.1,196.2 869.4,189.5 869.7,194.9 870.0,183.3 870.2,182.2 870.5,167.0 870.8,168.2 871.1,181.5 871.3,186.4 871.6,177.8 871.9,180.1 872.2,169.0 872.4,171.5 872.7,160.0 873.0,171.0 873.3,158.7 873.5,168.3 873.8,183.2 874.1,184.0 874.4,202.1 874.6,208.0 874.9,203.5 875.2,208.0 875.5,199.7 875.7,204.0 876.0,195.7 876.3,202.7 876.6,190.0 876.8,195.8 877.1,185.0 877.4,191.8 877.7,205.9 877.9,207.0 878.2,192.7 878.5,190.4 878.8,181.9 879.0,187.3 879.3,205.1 879.6,204.0 879.9,208.6 880.1,209.2 880.4,202.7 880.7,203.7 881.0,193.7 881.2,200.1 881.5,183.8 881.8,185.7 882.1,176.9 882.3,180.7 882.6,188.5 882.9,187.1 883.2,205.4 883.4,205.5 883.7,216.3 884.0,213.0 884.3,219.3 884.5,218.2 884.8,205.3 885.1,201.1 885.4,210.9 885.6,207.3 885.9,222.5 886.2,217.3 886.5,199.0 886.7,199.0 887.0,189.4 887.3,195.8 887.6,206.8 887.8,200.2 888.1,206.8 888.4,204.2 888.7,198.3 888.9,208.0 889.2,200.0 889.5,198.2 889.8,180.4 890.0,177.0 890.3,189.5 890.6,188.8 890.9,200.2 891.1,201.2 891.4,194.1 891.7,194.5 892.0,184.4 892.2,184.9 892.5,177.7 892.8,184.7 893.1,178.6 893.3,181.6 893.6,188.6 893.9,186.9 894.2,193.5 894.4,190.3 894.7,195.8 895.0,193.6 895.3,184.4 895.5,185.8 895.8,174.7 896.1,175.7 896.4,181.6 896.6,181.4 896.9,177.8 897.2,181.8 897.5,174.2 897.7,178.2 898.0,168.8 898.3,171.3 898.6,178.5 898.8,177.2 899.1,186.0 899.4,183.1 899.7,191.4 899.9,188.0 900.2,167.6 900.5,165.1 900.8,181.6 901.0,180.3 901.3,200.2 901.6,194.4 901.9,210.2 902.1,205.1 902.4,211.3 902.7,209.6 903.0,204.4 903.2,205.0 903.5,196.8 903.8,207.2 904.1,197.2 904.3,204.5 904.6,217.2 904.9,216.6 905.2,226.7 905.4,227.7 905.7,212.7 906.0,213.4 906.3,203.4 906.5,205.2 906.8,211.1 907.1,207.9 907.4,218.0 907.6,221.4 907.9,212.2 908.2,216.8 908.5,208.9 908.7,212.3 909.0,203.1 909.3,206.2 909.6,199.5 909.8,204.8 910.1,210.7 910.4,209.7 910.7,199.5 910.9,205.2 911.2,197.1 911.5,204.4 911.8,212.1 912.0,207.3 912.3,196.3 912.6,197.2 912.9,181.4 913.1,181.7 913.4,168.1 913.7,172.7 914.0,192.0 914.2,197.6 914.5,189.1 914.8,193.3 915.1,185.6 915.3,188.4 915.6,194.0 915.9,193.0 916.2,203.1 916.4,201.4 916.7,209.1 917.0,202.6 917.3,191.7 917.5,192.3 917.8,202.9 918.1,200.6 918.4,213.0 918.6,205.1 918.9,213.6 919.2,211.7 919.5,202.8 919.7,206.3 920.0,197.5 920.3,198.8 920.6,187.3 920.8,188.1 921.1,195.9 921.4,190.0 921.7,197.7 921.9,191.4 922.2,182.6 922.5,188.9 922.8,179.9 923.0,185.3 923.3,172.9 923.6,176.9 923.9,164.8 924.1,168.5 924.4,180.7 924.7,179.1 925.0,185.6 925.2,186.6 925.5,177.7 925.8,179.7 926.1,186.7 926.3,189.3 926.6,181.9 926.9,183.4 927.2,176.7 927.4,176.4 927.7,183.4 928.0,182.1 928.3,164.0 928.5,169.7 928.8,153.6 929.1,159.0 929.4,172.6 929.6,175.5 929.9,168.9 930.2,171.7 930.5,158.9 930.7,159.1 931.0,144.1 931.3,147.3 931.6,139.6 931.8,143.8 932.1,150.1 932.4,155.6 932.7,146.4 932.9,146.2 933.2,152.9 933.5,148.8 933.8,139.9 934.0,142.8 934.3,131.8 934.6,131.2 934.9,143.0 935.1,148.4 935.4,134.4 935.7,134.9 936.0,115.2 936.2,119.9 936.5,135.7 936.8,127.9 937.1,142.1 937.3,131.1 937.6,118.3 937.9,119.9 938.2,135.1 938.4,135.7 938.7,151.9 939.0,148.8 939.3,167.6 939.5,168.7 939.8,161.7 940.1,169.5 940.4,162.1 940.6,163.3 940.9,172.8 941.2,172.4 941.5,190.4 941.7,187.7 942.0,198.4 942.3,192.6 942.6,200.8 942.8,195.2 943.1,181.6 943.4,185.2 943.7,180.7 943.9,188.8 944.2,178.2 944.5,176.7 944.8,163.0 945.0,164.4 945.3,158.1 945.6,157.9 945.9,165.8 946.1,160.4 946.4,147.3 946.7,153.7 947.0,142.1 947.2,133.7 947.5,143.7 947.8,137.7 948.1,147.6 948.3,144.2 948.6,136.4 948.9,139.4 949.2,127.8 949.4,131.5 949.7,122.9 950.0,126.4 950.3,143.4 950.5,143.1 950.8,149.1 951.1,144.5 951.4,150.3 951.6,143.6 951.9,151.8 952.2,145.8 952.5,170.1 952.7,167.6 953.0,191.6 953.3,187.5 953.6,193.9 953.8,195.3 954.1,181.3 954.4,185.6 954.7,172.8 954.9,179.6 955.2,189.0 955.5,184.5 955.8,206.5 956.0,209.5 956.3,223.1 956.6,215.0 956.9,201.3 957.1,205.4 957.4,196.7 957.7,198.4 958.0,205.6 958.2,202.8 958.5,195.0 958.8,197.2 959.1,189.6 959.3,190.6 959.6,202.7 959.9,201.4 960.2,215.4 960.4,214.2 960.7,201.2 961.0,205.1 961.3,195.9 961.5,202.2 961.8,215.1 962.1,211.1 962.4,218.8 962.6,219.7 962.9,210.6 963.2,211.3 963.5,200.4 963.7,202.2 964.0,192.2 964.3,194.7 964.6,187.1 964.8,191.7 965.1,200.3 965.4,199.0 965.7,204.2 965.9,205.2 966.2,193.9 966.5,197.5 966.8,185.7 967.0,192.4 967.3,183.6 967.6,179.9 967.9,190.8 968.1,182.7 968.4,174.9 968.7,181.6 969.0,173.0 969.2,175.0 969.5,189.6 969.8,187.3 970.1,196.2 970.3,191.9 970.6,182.2 970.9,183.4 971.2,197.8 971.4,194.3 971.7,204.5 972.0,207.8 972.3,200.1 972.5,205.6 972.8,218.7 973.1,215.5 973.4,226.7 973.6,224.6 973.9,240.4 974.2,235.9 974.5,218.8 974.7,219.6 975.0,212.9 975.3,217.8 975.6,227.1 975.8,220.7 976.1,227.0 976.4,226.0 976.7,219.4 976.9,219.1 977.2,225.4 977.5,228.1 977.8,244.2 978.0,254.2 978.3,233.6 978.6,234.4 978.9,219.8 979.1,221.5 979.4,229.1 979.7,224.1 980.0,230.2 980.2,228.0 980.5,237.1 980.8,236.0 981.1,249.8 981.3,251.3 981.6,230.1 981.9,233.6 982.2,217.3 982.4,222.3 982.7,215.1 983.0,215.6 983.3,230.8 983.5,229.4 983.8,239.6 984.1,235.9 984.4,224.7 984.6,228.3 984.9,216.0 985.2,223.3 985.5,210.6 985.7,224.8 986.0,245.5 986.3,242.4 986.6,247.1 986.8,247.7 987.1,239.7 987.4,239.2 987.7,227.8 987.9,226.7 988.2,233.3 988.5,227.0 988.8,239.5 989.0,238.6 989.3,249.7 989.6,247.9 989.9,231.8 990.1,235.2 990.4,225.5 990.7,223.4 991.0,230.9 991.2,226.6 991.5,240.7 991.8,234.8 992.1,260.6 992.3,261.6 992.6,278.6 992.9,277.3 993.2,265.9 993.4,266.8 993.7,252.8 994.0,252.0 994.3,238.5 994.5,245.0 994.8,255.3 995.1,255.4 995.4,247.9 995.6,246.8 995.9,253.7 996.2,251.7 996.5,245.4 996.7,248.2 997.0,252.8 997.3,250.3 997.6,260.1 997.8,257.1 998.1,270.8 998.4,269.9 998.7,244.5 998.9,247.6 999.2,235.6 999.5,240.1 999.8,233.1 1000.0,234.8 1000.3,241.4 1000.6,235.0 1000.9,242.3 1001.1,235.5 1001.4,225.3 1001.7,232.5 1002.0,227.1 1002.2,231.2 1002.5,224.9 1002.8,228.3 1003.1,223.4 1003.3,227.4 1003.6,220.0 1003.9,221.1 1004.2,235.8 1004.4,234.4 1004.7,246.7 1005.0,241.4 1005.3,228.1 1005.5,225.8 1005.8,245.5 1006.1,247.8 1006.4,258.1 1006.6,248.9 1006.9,228.9 1007.2,232.5 1007.5,225.2 1007.7,234.2 1008.0,227.3 1008.3,228.2 1008.6,235.0 1008.8,236.8 1009.1,226.6 1009.4,231.1 1009.7,226.2 1009.9,232.9 1010.2,228.1 1010.5,231.6 1010.8,238.0 1011.0,235.5 1011.3,246.2 1011.6,245.1 1011.9,257.4 1012.1,253.7 1012.4,220.8 1012.7,220.6 1013.0,210.3 1013.2,219.5 1013.5,233.0 1013.8,230.8 1014.1,243.3 1014.3,242.0 1014.6,248.0 1014.9,246.2 1015.2,239.6 1015.4,242.4 1015.7,250.3 1016.0,244.4 1016.3,262.8 1016.5,261.4 1016.8,279.4 1017.1,266.2 1017.4,233.3 1017.6,239.9 1017.9,227.8 1018.2,239.1 1018.5,248.2 1018.7,246.4 1019.0,230.6 1019.3,231.5 1019.6,237.0 1019.8,230.1 1020.1,241.3 1020.4,236.5 1020.7,245.1 1020.9,245.1 1021.2,232.8 1021.5,236.8 1021.8,229.7 1022.0,232.1 1022.3,238.2 1022.6,236.2 1022.9,242.9 1023.1,240.6 1023.4,249.2 1023.7,241.3 1024.0,247.9 1024.2,245.1 1024.5,233.6 1024.8,236.9 1025.1,228.2 1025.3,233.0 1025.6,240.6 1025.9,242.4 1026.2,234.6 1026.4,232.4 1026.7,239.7 1027.0,235.9 1027.3,243.9 1027.5,245.3 1027.8,239.2 1028.1,240.3 1028.4,247.4 1028.6,244.3 1028.9,257.1 1029.2,250.7 1029.5,234.1 1029.7,234.8 1030.0,228.7 1030.3,237.5 1030.6,231.3 1030.8,229.6 1031.1,234.6 1031.4,229.9 1031.7,241.6 1031.9,239.8 1032.2,255.4 1032.5,246.5 1032.8,234.8 1033.0,228.1 1033.3,238.1 1033.6,246.1 1033.9,236.2 1034.1,243.0 1034.4,250.3 1034.7,247.9 1035.0,240.8 1035.2,246.3 1035.5,238.3 1035.8,238.3 1036.1,228.5 1036.3,228.4 1036.6,234.0 1036.9,232.1 1037.2,238.5 1037.4,235.2 1037.7,245.3 1038.0,239.5 1038.3,224.5 1038.5,215.0 1038.8,226.9 1039.1,224.2 1039.4,236.5 1039.6,230.9 1039.9,238.5 1040.2,233.3 1040.5,243.1 1040.7,241.3 1041.0,256.5 1041.3,253.6 1041.6,261.9 1041.8,251.2 1042.1,260.9 1042.4,252.8 1042.7,243.8 1042.9,247.3 1043.2,259.0 1043.5,261.5 1043.8,254.5 1044.0,257.6 1044.3,250.3 1044.6,255.1 1044.9,248.6 1045.1,249.1 1045.4,258.2 1045.7,257.4 1046.0,264.7 1046.2,262.6 1046.5,253.5 1046.8,251.9 1047.1,258.8 1047.3,252.3 1047.6,260.6 1047.9,258.7 1048.2,268.9 1048.4,268.2 1048.7,257.5 1049.0,258.7 1049.3,250.6 1049.5,250.9 1049.8,259.7 1050.1,254.9 1050.4,246.1 1050.6,251.0 1050.9,242.5 1051.2,243.6 1051.5,250.8 1051.7,248.6 1052.0,239.6 1052.3,245.2 1052.6,237.0 1052.8,239.7 1053.1,233.3 1053.4,240.0 1053.7,231.1 1053.9,238.5 1054.2,232.9 1054.5,235.3 1054.8,241.2 1055.0,238.8 1055.3,247.2 1055.6,248.4 1055.9,243.1 1056.1,242.9 1056.4,250.7 1056.7,243.8 1057.0,231.9 1057.2,232.6 1057.5,246.7 1057.8,245.8 1058.1,258.6 1058.3,251.9 1058.6,240.7 1058.9,240.7 1059.2,247.1 1059.4,250.8 1059.7,244.4 1060.0,248.3 1060.3,240.7 1060.5,240.8 1060.8,250.5 1061.1,246.5 1061.4,262.4 1061.6,260.5 1061.9,274.7 1062.2,277.0 1062.5,270.0 1062.7,274.4 1063.0,267.9 1063.3,271.6 1063.6,263.3 1063.8,264.1 1064.1,274.9 1064.4,279.6 1064.7,268.6 1064.9,274.6 1065.2,266.0 1065.5,273.2 1065.8,265.7 1066.0,269.8 1066.3,263.5 1066.6,267.9 1066.9,277.3 1067.1,274.4 1067.4,267.6 1067.7,270.6 1068.0,261.8 1068.2,262.5 1068.5,254.3 1068.8,259.5 1069.1,247.0 1069.3,246.1 1069.6,261.5 1069.9,259.0 1070.2,269.1 1070.4,260.5 1070.7,240.9 1071.0,237.3 1071.3,251.7 1071.5,249.2 1071.8,260.6 1072.1,257.1 1072.4,264.6 1072.6,260.3 1072.9,269.3 1073.2,264.2 1073.5,278.6 1073.7,276.6 1074.0,287.2 1074.3,287.3 1074.6,279.5 1074.8,286.1 1075.1,278.6 1075.4,279.8 1075.7,274.0 1075.9,277.6 1076.2,271.0 1076.5,272.0 1076.8,282.3 1077.0,278.5 1077.3,292.9 1077.6,288.8 1077.9,278.2 1078.1,280.4 1078.4,270.1 1078.7,273.7 1079.0,265.1 1079.2,266.9 1079.5,256.1 1079.8,261.7 1080.1,255.0 1080.3,257.6 1080.6,264.5 1080.9,267.8 1081.2,258.7 1081.4,262.0 1081.7,268.4 1082.0,266.2 1082.3,274.0 1082.5,268.4 1082.8,276.0 1083.1,275.0 1083.4,266.7 1083.6,273.8 1083.9,262.6 1084.2,267.0 1084.5,262.1 1084.7,267.4 1085.0,261.6 1085.3,262.9 1085.6,271.6 1085.8,269.0 1086.1,282.1 1086.4,283.0 1086.7,271.3 1086.9,270.9 1087.2,286.1 1087.5,282.6 1087.8,303.0 1088.0,304.9 1088.3,290.1 1088.6,289.3 1088.9,282.9 1089.1,287.3 1089.4,281.9 1089.7,282.3 1090.0,289.9 1090.2,290.4 1090.5,283.3 1090.8,286.1 1091.1,276.1 1091.3,275.2 1091.6,284.7 1091.9,278.0 1092.2,285.7 1092.4,283.0 1092.7,287.9 1093.0,286.7 1093.3,293.8 1093.5,292.8 1093.8,283.1 1094.1,289.0 1094.4,281.1 1094.6,285.0 1094.9,292.8 1095.2,288.7 1095.5,295.0 1095.7,294.0 1096.0,283.3 1096.3,283.3 1096.6,290.9 1096.8,289.4 1097.1,277.1 1097.4,277.8 1097.7,271.1 1097.9,273.3 1098.2,264.7 1098.5,264.2 1098.8,271.3 1099.0,268.7 1099.3,261.4 1099.6,264.6 1099.9,254.1 1100.1,259.5 1100.4,253.1 1100.7,259.2 1101.0,253.4 1101.2,257.9 1101.5,267.9 1101.8,267.3 1102.1,248.9 1102.3,252.5 1102.6,240.6 1102.9,250.4 1103.2,261.9 1103.4,262.8 1103.7,256.4 1104.0,260.8 1104.3,248.7 1104.5,247.9 1104.8,235.2 1105.1,240.1 1105.4,255.2 1105.6,259.3 1105.9,252.4 1106.2,255.8 1106.5,249.4 1106.7,253.0 1107.0,247.4 1107.3,247.0 1107.6,258.0 1107.8,254.6 1108.1,265.3 1108.4,259.9 1108.7,265.2 1108.9,261.9 1109.2,268.8 1109.5,264.8 1109.8,270.4 1110.0,265.8 1110.3,256.0 1110.6,251.8 1110.9,258.0 1111.1,253.1 1111.4,245.3 1111.7,247.2 1112.0,237.6 1112.2,235.8 1112.5,244.0 1112.8,247.6 1113.1,242.0 1113.3,244.6 1113.6,235.7 1113.9,238.0 1114.2,254.6 1114.4,252.2 1114.7,260.5 1115.0,253.9 1115.3,263.2 1115.5,261.9 1115.8,274.9 1116.1,273.5 1116.4,283.5 1116.6,279.4 1116.9,288.9 1117.2,282.5 1117.5,292.5 1117.7,286.8 1118.0,299.2 1118.3,299.6 1118.6,311.2 1118.8,309.2 1119.1,301.1 1119.4,297.2 1119.7,304.0 1119.9,306.3 1120.2,299.1 1120.5,299.8 1120.8,309.0 1121.0,305.4 1121.3,294.8 1121.6,289.2 1121.9,296.3 1122.1,294.9 1122.4,309.7 1122.7,310.0 1123.0,293.8 1123.2,296.6 1123.5,283.9 1123.8,286.0 1124.1,295.0 1124.3,291.6 1124.6,303.0 1124.9,297.8 1125.2,310.8 1125.4,297.0 1125.7,279.5 1126.0,280.6 1126.3,297.0 1126.5,293.6 1126.8,301.6 1127.1,295.3 1127.4,281.3 1127.6,279.2 1127.9,284.7 1128.2,277.1 1128.5,285.2 1128.7,280.0 1129.0,268.1 1129.3,269.4 1129.6,273.7 1129.8,273.0 1130.1,264.4 1130.4,266.1 1130.7,257.2 1130.9,261.7 1131.2,275.5 1131.5,270.3 1131.8,279.5 1132.0,273.2 1132.3,261.0 1132.6,265.1 1132.9,256.7 1133.1,259.0 1133.4,251.3 1133.7,257.1 1134.0,252.1 1134.2,253.6 1134.5,258.2 1134.8,254.7 1135.1,268.2 1135.3,263.9 1135.6,270.8 1135.9,261.5 1136.2,269.1 1136.4,259.7 1136.7,252.4 1137.0,255.2 1137.3,246.2 1137.5,244.1 1137.8,252.4 1138.1,247.8 1138.4,253.6 1138.6,251.0 1138.9,263.2 1139.2,258.2 1139.5,273.3 1139.7,268.2 1140.0,277.9 1140.3,278.6 1140.6,270.7 1140.8,272.5 1141.1,263.3 1141.4,267.3 1141.7,258.3 1141.9,261.1 1142.2,253.3 1142.5,268.5 1142.8,258.7 1143.0,267.6 1143.3,260.4 1143.6,259.9 1143.9,266.7 1144.1,266.0 1144.4,272.0 1144.7,272.5 1145.0,264.3 1145.2,264.3 1145.5,268.7 1145.8,264.3 1146.1,269.9 1146.3,266.3 1146.6,278.1 1146.9,270.2 1147.2,278.9 1147.4,280.4 1147.7,273.3 1148.0,277.9 1148.3,267.8 1148.5,267.2 1148.8,276.1 1149.1,273.5 1149.4,280.1 1149.6,280.5 1149.9,267.9 1150.2,272.3 1150.5,266.6 1150.7,270.4 1151.0,264.8 1151.3,268.9 1151.6,278.0 1151.8,275.5 1152.1,285.2 1152.4,284.6 1152.7,290.6 1152.9,289.3 1153.2,299.4 1153.5,297.7 1153.8,286.1 1154.0,290.4 1154.3,278.7 1154.6,280.8 1154.9,271.0 1155.1,273.8 1155.4,285.0 1155.7,282.6 1156.0,289.9 1156.2,289.5 1156.5,282.5 1156.8,286.2 1157.1,295.0 1157.3,294.1 1157.6,301.9 1157.9,306.2 1158.2,298.7 1158.4,300.2 1158.7,292.4 1159.0,292.5 1159.3,281.8 1159.5,284.8 1159.8,278.5 1160.1,280.4 1160.4,274.4 1160.6,278.2 1160.9,263.3 1161.2,256.9 1161.5,284.9 1161.7,286.1 1162.0,353.3 1162.3,356.0 1162.6,339.0 1162.8,338.7 1163.1,323.3 1163.4,323.3 1163.7,307.6 1163.9,311.7 1164.2,307.0 1164.5,312.3 1164.8,308.5 1165.0,307.8 1165.3,312.3 1165.6,310.6 1165.9,317.2 1166.1,314.8 1166.4,321.5 1166.7,319.2 1167.0,325.0 1167.2,323.6 1167.5,320.4 1167.8,319.4 1168.1,323.9 1168.3,322.8 1168.6,317.9 1168.9,321.4 1169.2,317.4 1169.4,320.6 1169.7,316.3 1170.0,319.6 1170.3,314.7 1170.5,315.7 1170.8,308.3 1171.1,305.7 1171.4,311.9 1171.6,308.9 1171.9,314.3 1172.2,312.1 1172.5,307.1 1172.7,308.2 1173.0,303.7 1173.3,308.8 1173.6,305.4 1173.8,305.7 1174.1,310.1 1174.4,312.2 1174.7,303.6 1174.9,304.9 1175.2,311.3 1175.5,310.0 1175.8,318.3 1176.0,316.9 1176.3,323.9 1176.6,320.6 1176.9,326.2 1177.1,322.5 1177.4,315.3 1177.7,313.8 1178.0,323.4 1178.2,324.1 1178.5,318.1 1178.8,323.7 1179.1,328.3 1179.3,328.6 1179.6,324.9 1179.9,325.9 1180.2,330.1 1180.4,331.1 1180.7,326.8 1181.0,331.1 1181.3,326.5 1181.5,327.1 1181.8,331.9 1182.1,327.7 1182.4,334.9 1182.6,332.7 1182.9,327.9 1183.2,328.6 1183.5,320.1 1183.7,321.3 1184.0,311.5 1184.3,312.8 1184.6,303.7 1184.8,304.7 1185.1,282.3 1185.4,279.8 1185.7,262.8 1185.9,270.2 1186.2,284.1 1186.5,283.1 1186.8,293.6 1187.0,290.2 1187.3,300.9 1187.6,299.9 1187.9,307.0 1188.1,307.5 1188.4,315.9 1188.7,314.8 1189.0,323.0 1189.2,319.6 1189.5,327.5 1189.8,328.4 1190.1,325.5 1190.3,329.4 1190.6,323.0 1190.9,325.1 1191.2,318.3 1191.4,318.7 1191.7,322.5 1192.0,324.1 1192.3,318.6 1192.5,324.2 1192.8,319.4 1193.1,321.8 1193.4,310.5 1193.6,309.4 1193.9,304.3 1194.2,301.8 1194.5,307.2 1194.7,305.3 1195.0,318.5 1195.3,319.6 1195.6,312.5 1195.8,312.4 1196.1,304.8 1196.4,308.0 1196.7,302.9 1196.9,304.3 1197.2,309.4 1197.5,308.3 1197.8,313.5 1198.0,313.1 1198.3,309.3 1198.6,312.9 1198.9,304.2 1199.1,306.2 1199.4,299.3 1199.7,300.8 1200.0,292.6 1200.2,292.6 1200.5,281.2 1200.8,284.5 1201.1,277.1 1201.3,281.8 1201.6,290.7 1201.9,289.7 1202.2,296.4 1202.4,298.3 1202.7,292.9 1203.0,294.5 1203.3,298.9 1203.5,297.6 1203.8,318.3 1204.1,316.9 1204.4,330.1 1204.6,327.6 1204.9,333.5 1205.2,330.7 1205.5,335.9 1205.7,330.8 1206.0,335.6 1206.3,330.3 1206.6,335.9 1206.8,333.8 1207.1,328.5 1207.4,328.0 1207.7,334.6 1207.9,335.0 1208.2,341.7 1208.5,339.5 1208.8,334.2 1209.0,335.0 1209.3,328.0 1209.6,329.4 1209.9,323.9 1210.1,325.2 1210.4,335.4 1210.7,337.2 1211.0,327.0 1211.2,327.4 1211.5,320.3 1211.8,326.7 1212.1,319.9 1212.3,325.3 1212.6,331.8 1212.9,336.3 1213.2,327.0 1213.4,328.6 1213.7,313.2 1214.0,312.1 1214.3,316.9 1214.5,313.4 1214.8,317.9 1215.1,315.1 1215.4,322.6 1215.6,320.9 1215.9,314.3 1216.2,316.6 1216.5,307.8 1216.7,309.0 1217.0,298.7 1217.3,302.8 1217.6,298.6 1217.8,297.2 1218.1,301.3 1218.4,303.2 1218.7,299.2 1218.9,293.2 1219.2,301.5 1219.5,290.6 1219.8,298.5 1220.0,298.8 1220.3,309.5 1220.6,307.0 1220.9,313.3 1221.1,312.4 1221.4,320.0 1221.7,317.4 1222.0,324.6 1222.2,322.8 1222.5,327.4 1222.8,324.6 1223.1,332.0 1223.3,328.2 1223.6,334.7 1223.9,335.1 1224.2,329.7 1224.4,330.5 1224.7,334.8 1225.0,333.1 1225.3,326.7 1225.5,332.0 1225.8,337.5 1226.1,337.9 1226.4,331.7 1226.6,332.1 1226.9,327.3 1227.2,326.5 1227.5,330.4 1227.7,328.3 1228.0,320.8 1228.3,325.5 1228.6,317.3 1228.8,325.2 1229.1,337.0 1229.4,335.5 1229.7,345.0 1229.9,343.7 1230.2,349.2 1230.5,343.5 1230.8,333.7 1231.0,335.8 1231.3,327.9 1231.6,332.5 1231.9,326.7 1232.1,335.3 1232.4,330.1 1232.7,332.6 1233.0,337.5 1233.2,331.1 1233.5,337.8 1233.8,331.1 1234.1,323.2 1234.3,325.3 1234.6,333.9 1234.9,331.0 1235.2,337.1 1235.4,340.7 1235.7,333.4 1236.0,338.1 1236.3,332.0 1236.5,331.0 1236.8,339.8 1237.1,339.7 1237.4,347.4 1237.6,348.0 1237.9,343.1 1238.2,346.6 1238.5,337.2 1238.7,337.5 1239.0,328.4 1239.3,331.1 1239.6,323.9 1239.8,324.1 1240.1,317.8 1240.4,319.7 1240.7,315.5 1240.9,315.4 1241.2,321.3 1241.5,318.0 1241.8,322.8 1242.0,319.9 1242.3,326.9 1242.6,326.3 1242.9,336.9 1243.1,336.3 1243.4,346.8 1243.7,350.3 1244.0,345.0 1244.2,347.4 1244.5,339.1 1244.8,342.9 1245.1,357.3 1245.3,361.6 1245.6,351.3 1245.9,352.0 1246.2,342.4 1246.4,345.5 1246.7,354.6 1247.0,353.1 1247.3,357.5 1247.5,356.2 1247.8,349.8 1248.1,350.6 1248.4,342.4 1248.6,345.5 1248.9,340.7 1249.2,346.4 1249.5,339.3 1249.7,341.8 1250.0,332.1 1250.3,333.1 1250.6,325.4 1250.8,328.1 1251.1,322.3 1251.4,327.8 1251.7,337.6 1251.9,335.5 1252.2,340.3 1252.5,336.8 1252.8,341.5 1253.0,339.4 1253.3,333.2 1253.6,333.3 1253.9,337.9 1254.1,335.6 1254.4,341.4 1254.7,341.2 1255.0,351.9 1255.2,350.2 1255.5,339.9 1255.8,338.1 1256.1,343.6 1256.3,340.1 1256.6,347.7 1256.9,344.3 1257.2,356.2 1257.4,358.7 1257.7,353.0 1258.0,353.4 1258.3,346.0 1258.5,348.0 1258.8,351.9 1259.1,352.6 1259.4,346.5 1259.6,348.5 1259.9,342.1 1260.2,343.8 1260.5,336.2 1260.7,340.7 1261.0,335.8 1261.3,337.9 1261.6,345.4 1261.8,342.6 1262.1,350.8 1262.4,352.4 1262.7,340.2 1262.9,341.3 1263.2,330.7 1263.5,333.1 1263.8,327.8 1264.0,331.4 1264.3,323.7 1264.6,327.0 1264.9,321.2 1265.1,326.0 1265.4,330.6 1265.7,328.3 1266.0,339.8 1266.2,337.2 1266.5,347.1 1266.8,345.3 1267.1,353.2 1267.3,349.6 1267.6,354.1 1267.9,353.3 1268.2,348.8 1268.4,348.4 1268.7,353.3 1269.0,352.4 1269.3,346.6 1269.5,346.5 1269.8,349.9 1270.1,347.7 1270.4,351.2 1270.6,348.0 1270.9,354.1 1271.2,350.2 1271.5,357.3 1271.7,353.3 1272.0,358.8 1272.3,357.5 1272.6,353.3 1272.8,356.5 1273.1,352.4 1273.4,355.4 1273.7,349.7 1273.9,354.0 1274.2,349.2 1274.5,351.9 1274.8,343.6 1275.0,346.8 1275.3,339.7 1275.6,343.3 1275.9,338.4 1276.1,338.1 1276.4,342.3 1276.7,341.8 1277.0,338.5 1277.2,338.9 1277.5,343.1 1277.8,338.5 1278.1,345.4 1278.3,345.6 1278.6,352.1 1278.9,349.7 1279.2,342.2 1279.4,344.2 1279.7,354.7 1280.0,353.7 1280.3,358.8 1280.5,357.2 1280.8,352.3 1281.1,353.4 1281.4,359.1 1281.6,360.9 1281.9,356.6 1282.2,358.6 1282.5,353.0 1282.7,351.8 1283.0,356.9 1283.3,355.3 1283.6,351.2 1283.8,352.6 1284.1,345.3 1284.4,348.6 1284.7,357.2 1284.9,357.1 1285.2,346.6 1285.5,347.6 1285.8,336.4 1286.0,340.9 1286.3,351.9 1286.6,350.3 1286.9,356.0 1287.1,354.7 1287.4,350.2 1287.7,349.3 1288.0,354.2 1288.2,354.5 1288.5,350.0 1288.8,352.3 1289.1,357.5 1289.3,359.6 1289.6,355.3 1289.9,360.1 1290.2,353.0 1290.4,354.1 1290.7,347.1 1291.0,346.7 1291.3,353.8 1291.5,350.2 1291.8,356.0 1292.1,353.8 1292.4,358.8 1292.6,358.9 1292.9,354.4 1293.2,355.8 1293.5,366.1 1293.7,364.2 1294.0,369.7 1294.3,365.9 1294.6,358.0 1294.8,362.1 1295.1,357.4 1295.4,359.6 1295.7,350.8 1295.9,354.4 1296.2,345.8 1296.5,345.9 1296.8,353.3 1297.0,350.8 1297.3,357.4 1297.6,355.5 1297.9,359.9 1298.1,359.4 1298.4,351.0 1298.7,351.4 1299.0,340.4 1299.2,342.1 1299.5,331.9 1299.8,335.0 1300.1,341.8 1300.3,342.3 1300.6,334.9 1300.9,334.5 1301.2,337.9 1301.4,333.2 1301.7,339.0 1301.9,334.8 1302.2,338.3" fill="none" stroke="#0000ff" stroke-width="1.39" stroke-linejoin="round"/>
</g>
<g stroke="#000" stroke-width="0.69" stroke-dasharray="1.39 4.17" fill="none">
<line x1="236.5" x2="236.5" y1="630.6" y2="70.5"/>
<line x1="333.5" x2="333.5" y1="630.6" y2="70.5"/>
<line x1="430.5" x2="430.5" y1="630.6" y2="70.5"/>
<line x1="527.5" x2="527.5" y1="630.6" y2="70.5"/>
<line x1="624.5" x2="624.5" y1="630.6" y2="70.5"/>
<line x1="720.5" x2="720.5" y1="630.6" y2="70.5"/>
<line x1="817.5" x2="817.5" y1="630.6" y2="70.5"/>
<line x1="914.5" x2="914.5" y1="630.6" y2="70.5"/>
<line x1="1011.5" x2="1011.5" y1="630.6" y2="70.5"/>
<line x1="1108.5" x2="1108.5" y1="630.6" y2="70.5"/>
<line x1="1205.5" x2="1205.5" y1="630.6" y2="70.5"/>
<line x1="139.5" x2="1302.5" y1="182.5" y2="182.5"/>
<line x1="139.5" x2="1302.5" y1="294.5" y2="294.5"/>
<line x1="139.5" x2="1302.5" y1="406.5" y2="406.5"/>
<line x1="139.5" x2="1302.5" y1="518.5" y2="518.5"/>
</g>
<g stroke="#000" stroke-width="0.69">
<line x1="236.5" x2="236.5" y1="630.6" y2="625.0400000000001"/>
<line x1="236.5" x2="236.5" y1="70.5" y2="76.06"/>
<line x1="333.5" x2="333.5" y1="630.6" y2="625.0400000000001"/>
<line x1="333.5" x2="333.5" y1="70.5" y2="76.06"/>
<line x1="430.5" x2="430.5" y1="630.6" y2="625.0400000000001"/>
<line x1="430.5" x2="430.5" y1="70.5" y2="76.06"/>
<line x1="527.5" x2="527.5" y1="630.6" y2="625.0400000000001"/>
<line x1="527.5" x2="527.5" y1="70.5" y2="76.06"/>
<line x1="624.5" x2="624.5" y1="630.6" y2="625.0400000000001"/>
<line x1="624.5" x2="624.5" y1="70.5" y2="76.06"/>
<line x1="720.5" x2="720.5" y1="630.6" y2="625.0400000000001"/>
<line x1="720.5" x2="720.5" y1="70.5" y2="76.06"/>
<line x1="817.5" x2="817.5" y1="630.6" y2="625.0400000000001"/>
<line x1="817.5" x2="817.5" y1="70.5" y2="76.06"/>
<line x1="914.5" x2="914.5" y1="630.6" y2="625.0400000000001"/>
<line x1="914.5" x2="914.5" y1="70.5" y2="76.06"/>
<line x1="1011.5" x2="1011.5" y1="630.6" y2="625.0400000000001"/>
<line x1="1011.5" x2="1011.5" y1="70.5" y2="76.06"/>
<line x1="1108.5" x2="1108.5" y1="630.6" y2="625.0400000000001"/>
<line x1="1108.5" x2="1108.5" y1="70.5" y2="76.06"/>
<line x1="1205.5" x2="1205.5" y1="630.6" y2="625.0400000000001"/>
<line x1="1205.5" x2="1205.5" y1="70.5" y2="76.06"/>
<line x1="139.5" x2="145.06" y1="182.5" y2="182.5"/>
<line x1="1302.5" x2="1296.94" y1="182.5" y2="182.5"/>
<line x1="139.5" x2="145.06" y1="294.5" y2="294.5"/>
<line x1="1302.5" x2="1296.94" y1="294.5" y2="294.5"/>
<line x1="139.5" x2="145.06" y1="406.5" y2="406.5"/>
<line x1="1302.5" x2="1296.94" y1="406.5" y2="406.5"/>
<line x1="139.5" x2="145.06" y1="518.5" y2="518.5"/>
<line x1="1302.5" x2="1296.94" y1="518.5" y2="518.5"/>
</g>
<rect x="139.5" y="70.5" width="1163.0" height="560.1" fill="none" stroke="#000" stroke-width="1.39"/>
<g font-family="'DejaVu Sans','Liberation Sans',sans-serif" font-weight="bold" fill="#000">
<text x="720.8" y="35.8" font-size="33.42" text-anchor="middle">PG time series from 2025.09.21. 00:00:07 - 2025.09.21. 12:00:00</text>
<g font-size="27.78" text-anchor="middle">
<text x="235.8" y="657.5">01</text>
<text x="332.7" y="657.5">02</text>
<text x="429.6" y="657.5">03</text>
<text x="526.5" y="657.5">04</text>
<text x="623.5" y="657.5">05</text>
<text x="720.4" y="657.5">06</text>
<text x="817.3" y="657.5">07</text>
<text x="914.2" y="657.5">08</text>
<text x="1011.1" y="657.5">09</text>
<text x="1107.3" y="657.5">10</text>
<text x="1204.2" y="657.5">11</text>
<text x="1301.1" y="657.5">12</text>
</g>
<g font-size="27.78" text-anchor="end">
<text x="135.0" y="78.6">400</text>
<text x="135.0" y="190.6">300</text>
<text x="135.0" y="303.1">200</text>
<text x="135.0" y="415.2">100</text>
<text x="135.0" y="527.0">0</text>
<text x="135.0" y="640.2">−100</text>
</g>
<text x="722.7" y="696.7" font-size="33.33" text-anchor="middle">Hours (UT)</text>
<g transform="translate(40.9 439.8) rotate(-90)" font-size="33.33">
<text x="0" y="0">PG (<tspan font-family="'Liberation Serif','DejaVu Serif',serif" font-weight="normal" x="78.7" y="0" font-style="italic" font-size="35.5" textLength="19.3" lengthAdjust="spacingAndGlyphs">V</tspan><tspan font-family="'Liberation Serif','DejaVu Serif',serif" font-weight="normal" x="96.4" y="0" font-style="italic" font-size="32" textLength="31.5" lengthAdjust="spacingAndGlyphs">m</tspan><tspan font-family="'Liberation Serif','DejaVu Serif',serif" font-weight="normal" x="127.9" y="-11.6" font-size="24" textLength="16" lengthAdjust="spacingAndGlyphs">−</tspan><tspan font-family="'Liberation Serif','DejaVu Serif',serif" font-weight="normal" x="144.7" y="-13.9" font-size="24">1</tspan><tspan x="162" y="0">)</tspan></text>
</g>
<rect x="278.5" y="744.6" width="885" height="89.9" fill="#fff" stroke="#000" stroke-width="1.39"/>
<line x1="293.8" x2="338.1" y1="767.5" y2="767.5" stroke="#f00" stroke-width="6.94"/>
<line x1="293.8" x2="338.1" y1="806.3" y2="806.3" stroke="#008000" stroke-width="6.94"/>
<line x1="731.1" x2="775" y1="767.5" y2="767.5" stroke="#00f" stroke-width="6.94"/>
<line x1="734.8" x2="771.9" y1="807.1" y2="807.1" stroke="#bfbf00" stroke-width="6.94" stroke-dasharray="8.33 8.33"/>
<line x1="996.4" x2="1033.7" y1="767.5" y2="767.5" stroke="#bfbf00" stroke-width="6.94" stroke-dasharray="8.33 8.33"/>
<g font-size="26.39">
<text x="362.6" y="777.3">The 1962 instrument</text>
<text x="362.6" y="816.9">The 1998 instrument</text>
<text x="799.6" y="777.3">Field mill</text>
<text x="801.2" y="816.9">300 <tspan font-family="'Liberation Serif','DejaVu Serif',serif" font-weight="normal" x="864.3" y="816.9" font-style="italic" font-size="29.2" textLength="17.2" lengthAdjust="spacingAndGlyphs">V</tspan><tspan font-family="'Liberation Serif','DejaVu Serif',serif" font-weight="normal" x="879.0" y="816.9" font-style="italic" font-size="26.2" textLength="24.4" lengthAdjust="spacingAndGlyphs">m</tspan><tspan font-family="'Liberation Serif','DejaVu Serif',serif" font-weight="normal" x="903.6" y="806.5" font-size="17.5" textLength="13.7" lengthAdjust="spacingAndGlyphs">−</tspan><tspan font-family="'Liberation Serif','DejaVu Serif',serif" font-weight="normal" x="916.6" y="805.2" font-size="17.4">1</tspan></text>
<text x="1062.3" y="777.3">0 <tspan font-family="'Liberation Serif','DejaVu Serif',serif" font-weight="normal" x="1090.1" y="777.3" font-style="italic" font-size="29.2" textLength="17.2" lengthAdjust="spacingAndGlyphs">V</tspan><tspan font-family="'Liberation Serif','DejaVu Serif',serif" font-weight="normal" x="1104.8" y="777.3" font-style="italic" font-size="26.2" textLength="24.4" lengthAdjust="spacingAndGlyphs">m</tspan><tspan font-family="'Liberation Serif','DejaVu Serif',serif" font-weight="normal" x="1129.4" y="766.9" font-size="17.5" textLength="13.7" lengthAdjust="spacingAndGlyphs">−</tspan><tspan font-family="'Liberation Serif','DejaVu Serif',serif" font-weight="normal" x="1142.4" y="765.6" font-size="17.4">1</tspan></text>
</g>
</g>
</svg>
</body></html>
